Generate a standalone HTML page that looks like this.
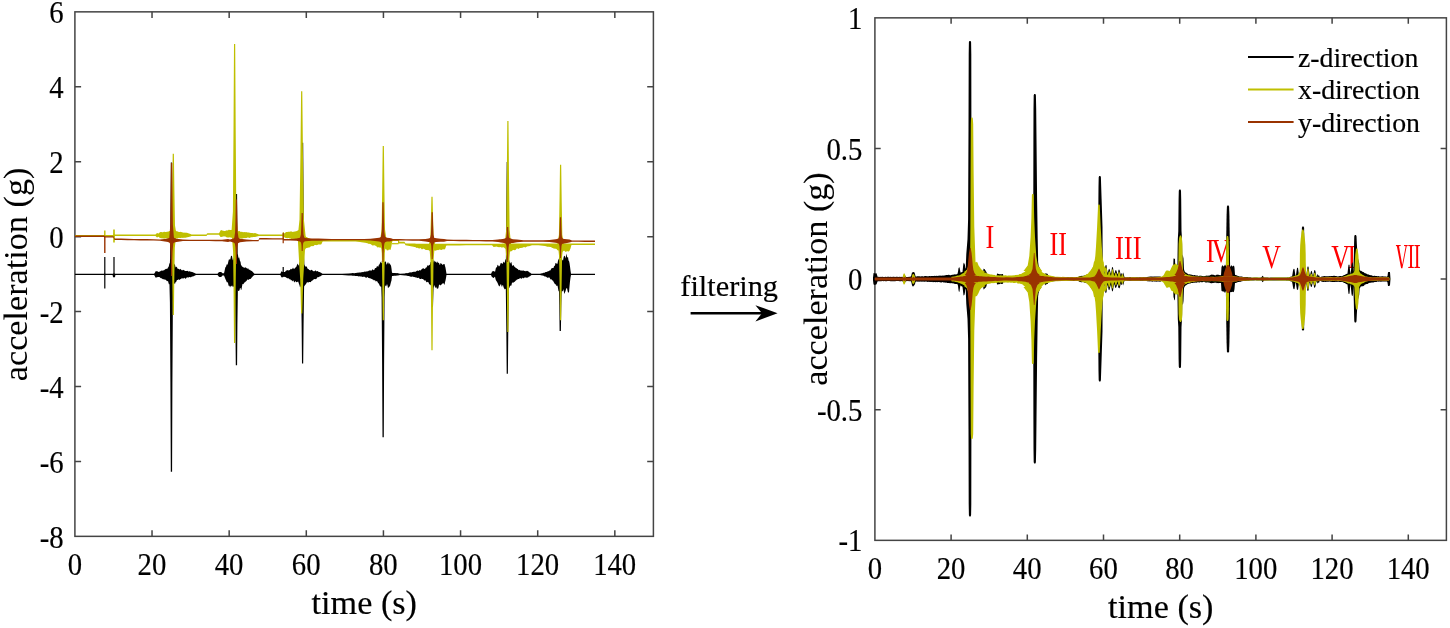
<!DOCTYPE html>
<html lang="en">
<head>
<meta charset="utf-8">
<title>Acceleration signals before and after filtering</title>
<style>
html,body{margin:0;padding:0;background:#fff;}
body{width:1450px;height:628px;overflow:hidden;}
svg{display:block;}
svg text{font-family:"Liberation Serif","Times New Roman",serif;fill:#000000;stroke:#000000;stroke-width:0.18px;}
</style>
</head>
<body>
<svg width="1450" height="628" viewBox="0 0 1450 628">
<rect width="1450" height="628" fill="#fff"/>
<!-- left panel: raw signals -->
<g stroke="#444444" stroke-width="1.5" fill="none">
<rect x="74.90" y="11.85" width="578.50" height="524.50"/>
<path d="M152.03 536.35v-6.20M152.03 11.85v6.20M229.17 536.35v-6.20M229.17 11.85v6.20M306.30 536.35v-6.20M306.30 11.85v6.20M383.43 536.35v-6.20M383.43 11.85v6.20M460.57 536.35v-6.20M460.57 11.85v6.20M537.70 536.35v-6.20M537.70 11.85v6.20M614.83 536.35v-6.20M614.83 11.85v6.20M74.90 86.78h6.20M653.40 86.78h-6.20M74.90 161.71h6.20M653.40 161.71h-6.20M74.90 236.64h6.20M653.40 236.64h-6.20M74.90 311.56h6.20M653.40 311.56h-6.20M74.90 386.49h6.20M653.40 386.49h-6.20M74.90 461.42h6.20M653.40 461.42h-6.20"/>
</g>
<g id="left-traces">
<path d="M75.0 273.8L81.5 273.8L88.0 273.8L94.5 273.8L101.0 273.8L107.5 273.8L114.0 273.8L120.5 273.8L127.0 273.8L133.5 273.8L140.0 273.8L146.5 273.8L153.0 273.8L154.0 273.8L154.5 273.3L155.0 272.6L155.5 271.4L156.0 271.0L156.5 271.2L157.0 271.4L157.5 271.2L158.5 271.9L159.5 271.8L160.0 271.3L160.5 271.3L161.0 270.7L161.5 270.6L162.0 270.7L162.5 270.5L163.0 270.7L163.5 270.3L164.0 270.3L164.5 270.0L165.0 269.3L165.5 269.3L166.0 268.8L166.5 268.7L167.0 269.2L168.0 267.5L168.5 267.1L169.0 265.5L169.5 263.0L170.0 263.7L170.5 263.8L171.0 261.6L171.5 259.4L172.0 259.7L172.5 260.7L173.0 260.0L173.5 261.8L174.0 263.6L174.5 264.2L175.0 265.0L175.5 267.1L176.0 267.5L176.5 266.6L177.0 267.3L177.5 268.6L178.0 269.0L178.5 268.7L179.0 268.9L179.5 269.6L180.0 269.5L180.5 268.8L181.0 269.6L182.0 270.6L182.5 270.3L183.0 269.7L183.5 270.1L184.0 270.2L184.5 270.6L185.0 271.0L185.5 271.1L186.0 270.9L186.5 271.1L187.0 271.0L187.5 270.8L188.0 271.2L188.5 271.5L189.0 271.5L189.5 271.2L190.0 271.3L190.5 271.7L191.0 271.7L192.0 272.1L192.5 272.1L193.0 272.5L193.5 272.6L194.0 272.7L195.0 273.2L196.0 273.8L202.5 273.8L209.0 273.8L215.5 273.8L217.5 273.8L218.0 273.2L218.5 272.6L219.0 272.3L219.5 272.1L220.5 272.1L221.0 272.1L221.5 272.3L222.0 272.7L222.5 273.3L224.0 273.2L224.5 271.3L225.0 268.7L225.5 267.0L226.0 266.8L226.5 265.0L227.0 264.1L227.5 264.9L228.0 262.9L228.5 260.8L229.0 259.2L229.5 259.3L230.0 260.0L230.5 258.6L231.0 256.1L231.5 255.8L232.0 256.1L232.5 258.9L233.0 260.4L233.5 258.7L234.0 257.7L234.5 255.9L235.0 256.6L235.5 256.9L236.0 255.9L236.5 255.0L237.0 254.3L237.5 254.3L238.0 254.9L238.5 258.4L239.0 257.1L239.5 258.8L240.0 261.1L240.5 261.7L241.0 265.1L241.5 265.5L242.0 266.6L242.5 266.7L243.0 267.0L243.5 267.5L244.0 267.4L244.5 268.1L245.0 267.2L245.5 267.2L246.0 267.9L246.5 267.8L247.0 268.7L247.5 268.8L248.0 268.0L248.5 269.1L249.0 269.7L249.5 269.7L250.0 269.7L250.5 270.3L251.0 270.9L251.5 270.7L252.0 271.0L252.5 271.8L253.0 272.2L254.5 273.8L261.0 273.8L267.5 273.8L274.0 273.8L280.0 273.8L280.5 273.5L281.0 272.3L281.5 271.3L282.0 271.6L282.5 272.0L283.5 272.0L284.0 272.1L284.5 272.1L285.0 271.9L285.5 271.2L286.0 270.8L287.0 270.3L287.5 270.1L288.0 270.5L288.5 270.4L289.0 270.0L289.5 270.3L290.0 270.0L290.5 269.1L291.0 268.7L291.5 269.2L292.0 269.3L292.5 268.4L293.0 267.6L293.5 268.4L294.0 269.0L294.5 268.5L295.0 268.3L295.5 267.6L296.0 267.1L296.5 266.6L297.0 264.7L297.5 263.6L298.0 264.8L298.5 265.7L299.0 264.2L299.5 262.3L300.0 261.6L300.5 262.3L301.0 262.0L301.5 261.7L302.0 259.5L302.5 259.2L303.0 261.9L303.5 263.2L304.0 264.2L304.5 265.2L305.0 266.1L305.5 266.7L306.0 266.2L306.5 266.4L307.0 267.3L307.5 268.5L308.0 269.1L308.5 269.0L309.0 269.8L310.0 270.2L310.5 270.6L311.0 270.1L311.5 269.8L312.0 270.0L312.5 270.6L313.0 271.1L313.5 271.2L314.5 271.3L315.0 270.7L315.5 270.3L316.0 270.9L316.5 271.5L317.0 271.1L317.5 271.1L318.0 271.5L318.5 271.7L319.0 271.9L319.5 272.1L320.0 272.2L320.5 272.5L321.0 272.8L322.5 273.8L329.0 273.8L335.5 273.8L342.0 273.8L348.5 273.4L351.5 273.2L352.5 273.1L354.5 273.2L355.5 272.9L357.5 272.8L358.0 272.6L358.5 272.7L359.0 272.6L360.5 272.6L361.5 272.2L362.5 271.9L363.0 272.2L364.5 271.5L365.0 271.7L365.5 271.7L366.0 271.2L366.5 271.4L367.0 271.5L367.5 271.2L368.0 271.2L368.5 271.0L369.0 270.5L369.5 270.4L370.0 270.4L370.5 270.6L371.0 270.6L371.5 270.7L372.0 270.1L372.5 269.2L373.0 269.5L373.5 270.3L374.0 270.1L374.5 269.4L375.0 268.1L375.5 268.1L376.0 268.2L376.5 267.2L377.0 266.0L377.5 266.1L378.0 267.2L379.0 264.5L379.5 264.4L380.0 262.9L380.5 261.5L381.0 263.1L381.5 263.2L382.0 260.4L382.5 258.6L383.0 260.5L383.5 261.3L384.0 261.6L384.5 262.5L385.0 261.5L385.5 261.4L386.0 262.1L386.5 264.7L387.0 264.1L387.5 263.1L388.0 262.1L388.5 262.9L389.0 264.5L389.5 263.0L390.0 263.7L390.5 265.1L391.0 265.5L391.5 268.6L392.0 272.8L393.0 273.1L394.0 273.1L395.5 273.1L396.0 273.2L397.0 273.0L398.0 273.2L400.0 273.8L405.0 273.4L406.0 273.1L407.0 273.2L408.0 272.9L409.0 272.8L410.0 272.3L411.0 272.5L412.0 272.2L412.5 272.1L413.0 272.0L413.5 271.7L414.5 271.8L415.5 271.7L416.0 271.4L416.5 271.1L417.0 270.8L417.5 270.4L418.0 270.7L418.5 271.0L419.0 270.5L419.5 270.1L420.0 270.6L420.5 270.4L421.0 269.8L421.5 269.5L422.0 268.9L422.5 268.6L423.0 268.4L423.5 268.2L424.0 268.4L424.5 268.9L425.0 268.9L425.5 267.9L426.0 267.5L426.5 267.5L427.0 266.4L427.5 265.4L428.0 265.1L428.5 265.9L429.0 265.3L429.5 264.9L430.0 264.4L430.5 261.9L431.0 261.7L431.5 259.4L432.0 256.4L432.5 258.9L433.0 259.2L433.5 260.9L434.0 262.8L434.5 260.6L435.0 261.2L435.5 261.8L436.0 262.3L436.5 262.9L437.0 261.2L437.5 262.1L438.0 263.1L438.5 262.8L439.0 262.8L439.5 264.4L440.0 264.9L440.5 262.9L441.0 263.2L441.5 263.8L442.0 264.2L442.5 265.0L443.0 264.4L443.5 264.2L444.0 263.9L444.5 264.0L445.0 265.9L445.5 267.7L446.0 270.8L446.5 273.8L453.0 273.8L459.5 273.8L466.0 273.8L472.5 273.8L479.0 273.8L485.5 273.8L491.0 273.8L491.5 272.9L492.0 271.5L492.5 271.3L493.0 271.5L493.5 271.1L494.0 271.1L494.5 271.6L495.0 272.0L495.5 269.7L496.0 267.5L496.5 267.5L497.0 267.0L497.5 264.9L498.0 264.8L498.5 266.1L499.0 266.4L499.5 265.9L500.0 265.2L500.5 263.5L501.0 262.7L501.5 263.2L502.0 263.5L502.5 263.9L503.0 263.1L503.5 261.6L504.0 262.3L504.5 263.0L505.0 261.3L505.5 259.3L506.0 259.5L506.5 260.5L507.0 258.4L507.5 259.2L508.0 260.0L508.5 258.0L509.0 259.8L509.5 262.0L510.0 262.9L510.5 263.4L511.0 261.8L511.5 262.6L512.0 265.1L512.5 266.0L513.0 265.6L513.5 264.9L514.0 265.8L514.5 266.9L515.0 266.8L515.5 267.8L516.0 268.1L516.5 267.9L517.0 268.9L517.5 268.8L518.0 269.2L518.5 270.1L519.0 270.2L519.5 269.8L520.0 270.2L520.5 270.5L521.5 270.6L522.0 270.8L522.5 270.7L523.0 270.2L523.5 270.6L524.0 271.1L524.5 271.0L525.0 270.8L525.5 271.2L526.0 271.3L526.5 270.9L527.0 270.8L527.5 271.1L528.0 271.2L528.5 271.5L529.0 272.1L529.5 272.4L530.0 272.6L530.5 272.9L531.5 273.8L538.0 273.8L540.0 273.8L542.0 273.3L542.5 273.2L543.5 272.8L544.0 272.8L544.5 272.7L545.0 272.5L545.5 272.0L546.0 272.0L546.5 272.0L547.0 271.8L547.5 271.5L548.0 271.2L548.5 271.2L549.5 270.4L550.0 270.6L550.5 270.3L551.0 269.2L551.5 268.3L552.0 268.3L552.5 268.1L553.0 268.1L553.5 268.1L554.0 266.3L554.5 266.0L555.0 265.2L555.5 263.1L556.0 263.0L556.5 263.4L557.0 264.1L557.5 263.5L558.0 260.7L558.5 259.5L559.0 258.4L559.5 258.2L560.0 257.1L560.5 253.9L561.0 254.5L561.5 257.4L562.0 259.6L562.5 260.1L563.0 260.7L563.5 257.8L564.0 255.9L564.5 255.7L565.0 256.5L565.5 258.4L566.0 256.0L566.5 253.4L567.0 256.8L567.5 257.8L568.0 256.8L568.5 260.5L569.0 261.0L569.5 263.0L570.0 266.5L570.5 270.5L571.0 273.8L577.5 273.8L584.0 273.8L590.5 273.8L595.0 273.8L595.0 275.0L590.5 275.0L584.0 275.0L577.5 275.0L571.0 275.0L570.5 277.8L570.0 281.5L569.5 286.4L569.0 292.3L568.5 292.5L568.0 292.5L567.5 290.6L567.0 288.1L566.5 288.2L566.0 289.2L565.5 291.2L565.0 292.2L564.5 294.0L564.0 292.5L563.5 289.0L563.0 290.9L562.5 291.5L562.0 290.6L561.5 291.2L561.0 293.7L560.5 295.3L560.0 291.1L559.5 289.5L559.0 291.5L558.5 291.0L558.0 288.2L557.5 285.4L557.0 286.0L556.5 285.9L556.0 284.5L555.5 284.4L555.0 284.1L554.5 283.5L554.0 282.5L553.5 281.8L553.0 280.5L552.5 280.5L552.0 280.2L551.5 279.2L551.0 279.3L550.5 279.4L550.0 278.5L549.5 277.5L548.5 277.5L548.0 277.7L547.5 277.7L547.0 277.5L546.5 277.1L546.0 276.7L545.5 276.5L545.0 276.5L544.5 276.4L544.0 276.0L543.5 275.8L542.5 275.6L542.0 275.5L540.0 275.0L538.0 275.0L531.5 275.0L530.5 275.7L530.0 276.3L529.5 276.5L529.0 276.6L528.5 277.0L528.0 277.4L527.5 277.5L527.0 277.8L526.5 277.7L526.0 277.5L525.5 277.5L525.0 277.4L524.5 277.5L524.0 277.9L523.5 278.4L523.0 277.8L522.5 277.8L522.0 278.5L521.5 278.8L520.5 278.2L520.0 278.1L519.5 278.4L519.0 279.0L518.5 279.0L518.0 279.1L517.5 279.5L517.0 279.4L516.5 279.9L516.0 280.5L515.5 280.7L515.0 281.4L514.5 282.1L514.0 281.8L513.5 282.5L513.0 283.2L512.5 282.3L512.0 282.7L511.5 284.9L511.0 286.0L510.5 285.6L510.0 285.8L509.5 287.4L509.0 288.0L508.5 287.0L508.0 288.8L507.5 291.4L507.0 289.5L506.5 288.6L506.0 289.1L505.5 288.8L505.0 289.5L504.5 288.9L504.0 288.3L503.5 287.1L503.0 285.0L502.5 285.2L502.0 287.1L501.5 285.9L501.0 284.0L500.5 284.4L500.0 285.6L499.5 286.4L499.0 286.0L498.5 285.3L498.0 284.1L497.5 282.8L497.0 282.1L496.5 281.0L496.0 280.5L495.5 279.0L495.0 276.7L494.5 277.0L494.0 277.7L493.5 277.9L493.0 277.7L492.5 277.3L492.0 277.0L491.5 276.2L491.0 275.0L485.5 275.0L479.0 275.0L472.5 275.0L466.0 275.0L459.5 275.0L453.0 275.0L446.5 275.0L446.0 277.9L445.5 280.4L445.0 282.2L444.5 285.1L444.0 284.0L443.5 283.1L443.0 283.8L442.5 283.2L442.0 284.0L441.5 284.6L441.0 285.0L440.5 285.6L440.0 285.1L439.5 284.5L439.0 284.9L438.5 287.5L438.0 288.8L437.5 288.5L437.0 288.7L436.5 287.7L436.0 286.5L435.5 287.9L435.0 287.4L434.5 285.3L434.0 285.7L433.5 286.9L433.0 288.3L432.5 288.6L432.0 289.0L431.5 287.7L431.0 285.5L430.5 285.1L430.0 284.4L429.5 284.5L429.0 283.8L428.5 282.2L428.0 282.3L427.5 281.9L427.0 281.8L426.5 282.5L426.0 281.6L425.5 280.3L425.0 280.6L424.5 280.5L424.0 280.2L423.5 279.6L423.0 278.9L422.5 279.1L422.0 279.0L421.5 278.6L421.0 279.0L420.5 279.0L420.0 278.9L419.5 278.7L419.0 278.0L418.5 277.7L418.0 277.7L417.5 277.9L417.0 278.1L416.5 277.5L416.0 277.3L415.5 277.4L414.5 276.9L413.5 277.0L413.0 276.6L412.5 276.6L412.0 276.8L411.0 276.7L410.0 276.4L409.0 276.0L408.0 276.1L407.0 275.7L406.0 275.6L405.0 275.5L400.0 275.0L398.0 275.6L397.0 275.5L396.0 275.7L395.5 275.7L394.0 275.7L393.0 275.9L392.0 275.9L391.5 280.4L391.0 282.1L390.5 283.9L390.0 286.1L389.5 286.6L389.0 287.2L388.5 287.4L388.0 288.3L387.5 285.5L387.0 283.9L386.5 285.4L386.0 286.5L385.5 285.8L385.0 285.3L384.5 287.7L384.0 288.1L383.5 286.9L383.0 288.6L382.5 288.8L382.0 287.5L381.5 286.2L381.0 287.1L380.5 286.4L380.0 285.7L379.5 285.4L379.0 283.8L378.0 283.1L377.5 281.8L377.0 281.3L376.5 281.1L376.0 281.4L375.5 281.2L375.0 280.1L374.5 280.2L374.0 280.4L373.5 280.0L373.0 279.5L372.5 279.4L372.0 279.0L371.5 278.9L371.0 278.4L370.5 278.2L370.0 278.7L369.5 278.0L369.0 277.9L368.5 278.1L368.0 277.6L367.5 277.1L367.0 277.2L366.5 277.7L366.0 277.7L365.5 277.4L365.0 277.0L364.5 276.8L363.0 276.8L362.5 276.9L361.5 276.4L360.5 276.5L359.0 276.3L358.5 276.4L358.0 276.2L357.5 275.9L355.5 275.9L354.5 275.8L352.5 275.8L351.5 275.6L348.5 275.4L342.0 275.0L335.5 275.0L329.0 275.0L322.5 275.0L321.0 275.8L320.5 276.3L320.0 276.5L319.5 276.4L319.0 276.9L318.5 277.2L318.0 277.1L317.5 277.3L317.0 278.1L316.5 278.8L316.0 279.1L315.5 279.3L315.0 279.0L314.5 279.1L313.5 279.4L313.0 280.0L312.5 280.5L312.0 280.8L311.5 280.9L311.0 281.8L310.5 282.3L310.0 281.9L309.0 282.1L308.5 282.4L308.0 282.4L307.5 282.2L307.0 282.2L306.5 283.0L306.0 284.0L305.5 284.8L305.0 284.8L304.5 286.1L304.0 286.2L303.5 285.9L303.0 286.5L302.5 287.4L302.0 290.3L301.5 288.3L301.0 285.5L300.5 286.7L300.0 287.5L299.5 285.3L299.0 284.0L298.5 282.4L298.0 281.3L297.5 281.9L297.0 282.1L296.5 282.2L296.0 282.0L295.5 281.1L295.0 281.5L294.5 282.5L294.0 282.1L293.5 280.6L293.0 280.6L292.5 281.5L292.0 280.4L291.5 280.1L291.0 280.6L290.5 279.4L290.0 279.0L289.5 279.4L289.0 278.5L288.5 278.3L288.0 278.5L287.5 278.3L287.0 277.9L286.0 277.6L285.5 277.0L285.0 277.1L284.5 276.9L284.0 276.4L283.5 277.0L282.5 277.2L282.0 277.4L281.5 277.2L281.0 276.4L280.5 275.3L280.0 275.0L274.0 275.0L267.5 275.0L261.0 275.0L254.5 275.0L253.0 276.1L252.5 276.7L252.0 277.3L251.5 277.8L251.0 278.4L250.5 278.9L250.0 279.1L249.5 278.9L249.0 279.6L248.5 279.9L248.0 279.5L247.5 279.4L247.0 280.1L246.5 280.9L246.0 281.2L245.5 281.8L245.0 282.3L244.5 282.6L244.0 283.0L243.5 284.2L243.0 283.9L242.5 284.1L242.0 286.6L241.5 289.2L241.0 290.3L240.5 287.9L240.0 288.1L239.5 290.6L239.0 290.4L238.5 290.9L238.0 291.1L237.5 289.7L237.0 289.3L236.5 290.4L236.0 289.1L235.5 286.3L235.0 288.4L234.5 289.4L234.0 287.3L233.5 285.9L233.0 287.2L232.5 286.3L232.0 285.2L231.5 286.5L231.0 285.7L230.5 286.4L230.0 287.4L229.5 285.5L229.0 286.2L228.5 285.2L228.0 282.9L227.5 281.9L227.0 282.6L226.5 281.5L226.0 280.2L225.5 279.2L225.0 278.0L224.5 276.8L224.0 275.6L222.5 275.4L222.0 276.1L221.5 276.8L221.0 277.1L220.5 276.9L219.5 277.0L219.0 276.7L218.5 276.3L218.0 275.6L217.5 275.0L215.5 275.0L209.0 275.0L202.5 275.0L196.0 275.0L195.0 275.5L194.0 276.1L193.5 276.2L193.0 276.4L192.5 276.5L192.0 276.4L191.0 277.2L190.5 277.3L190.0 277.3L189.5 277.1L189.0 277.1L188.5 277.6L188.0 277.7L187.5 277.3L187.0 277.3L186.5 277.8L186.0 278.5L185.5 278.7L185.0 278.4L184.5 277.7L184.0 278.0L183.5 278.5L183.0 278.6L182.5 278.4L182.0 278.0L181.0 278.9L180.5 279.0L180.0 279.4L179.5 279.9L179.0 279.6L178.5 279.3L178.0 280.0L177.5 280.1L177.0 279.8L176.5 281.2L176.0 282.1L175.5 282.3L175.0 283.9L174.5 283.6L174.0 283.2L173.5 284.0L173.0 285.3L172.5 286.6L172.0 288.7L171.5 292.1L171.0 290.8L170.5 287.3L170.0 284.3L169.5 284.0L169.0 284.5L168.5 282.9L168.0 280.9L167.0 281.2L166.5 280.8L166.0 279.8L165.5 279.8L165.0 279.8L164.5 279.4L164.0 279.3L163.5 279.3L163.0 279.2L162.5 279.0L162.0 278.4L161.5 278.2L161.0 278.3L160.5 278.1L160.0 277.6L159.5 277.1L158.5 276.9L157.5 277.1L157.0 277.5L156.5 277.5L156.0 277.3L155.5 277.7L155.0 276.6L154.5 275.5L154.0 275.0L153.0 275.0L146.5 275.0L140.0 275.0L133.5 275.0L127.0 275.0L120.5 275.0L114.0 275.0L107.5 275.0L101.0 275.0L94.5 275.0L88.0 275.0L81.5 275.0L75.0 275.0Z" fill="#000000"/>
<path d="M104.1 274.4L104.2 272.0L104.2 264.8L104.2 257.0L105.4 257.0L105.4 264.8L105.4 272.0L105.5 274.4Z" fill="#000000"/>
<path d="M104.1 274.4L104.2 276.4L104.2 282.1L104.2 288.4L105.4 288.4L105.4 282.1L105.4 276.4L105.5 274.4Z" fill="#000000"/>
<path d="M113.3 274.4L113.4 272.0L113.4 264.8L113.4 257.0L114.6 257.0L114.6 264.8L114.6 272.0L114.7 274.4Z" fill="#000000"/>
<ellipse cx="114" cy="275.6" rx="1.3" ry="2.0" fill="#000"/>
<path d="M282.5 274.4L282.6 273.4L282.6 270.3L282.6 267.0L283.8 267.0L283.8 270.3L283.8 273.4L283.9 274.4Z" fill="#000000"/>
<path d="M169.2 274.4L170.1 258.7L170.4 212.9L170.8 162.5L172.1 162.5L172.4 212.9L172.8 258.7L173.6 274.4Z" fill="#000000"/>
<path d="M169.2 274.4L169.9 302.0L170.4 382.9L170.8 471.7L172.1 471.7L172.4 382.9L172.9 302.0L173.6 274.4Z" fill="#000000"/>
<path d="M234.2 274.4L235.1 263.1L235.4 230.2L235.8 194.0L237.1 194.0L237.4 230.2L237.8 263.1L238.6 274.4Z" fill="#000000"/>
<path d="M234.2 274.4L234.9 287.1L235.4 324.4L235.8 365.3L237.1 365.3L237.4 324.4L237.9 287.1L238.6 274.4Z" fill="#000000"/>
<path d="M300.4 274.4L301.2 256.0L301.6 202.0L302.0 142.7L303.2 142.7L303.6 202.0L304.0 256.0L304.8 274.4Z" fill="#000000"/>
<path d="M300.4 274.4L301.1 286.9L301.6 323.5L302.0 363.6L303.2 363.6L303.6 323.5L304.1 286.9L304.8 274.4Z" fill="#000000"/>
<path d="M380.9 274.4L381.8 271.8L382.1 264.3L382.5 256.0L383.8 256.0L384.1 264.3L384.5 271.8L385.3 274.4Z" fill="#000000"/>
<path d="M380.9 274.4L381.6 297.2L382.1 363.9L382.5 437.2L383.8 437.2L384.1 363.9L384.6 297.2L385.3 274.4Z" fill="#000000"/>
<path d="M430.2 274.4L431.0 272.2L431.4 265.9L431.8 259.0L433.0 259.0L433.4 265.9L433.8 272.2L434.6 274.4Z" fill="#000000"/>
<path d="M430.2 274.4L430.9 279.0L431.4 292.3L431.8 307.0L433.0 307.0L433.4 292.3L433.9 279.0L434.6 274.4Z" fill="#000000"/>
<path d="M505.1 274.4L505.9 258.7L506.3 212.6L506.7 162.0L507.9 162.0L508.3 212.6L508.7 258.7L509.5 274.4Z" fill="#000000"/>
<path d="M505.1 274.4L505.8 288.3L506.3 329.0L506.7 373.7L507.9 373.7L508.3 329.0L508.8 288.3L509.5 274.4Z" fill="#000000"/>
<path d="M558.1 274.4L558.9 271.7L559.3 263.7L559.6 255.0L560.9 255.0L561.3 263.7L561.6 271.7L562.5 274.4Z" fill="#000000"/>
<path d="M558.1 274.4L558.8 282.3L559.3 305.5L559.6 330.9L560.9 330.9L561.3 305.5L561.8 282.3L562.5 274.4Z" fill="#000000"/>
<path d="M75.0 234.9L81.5 234.9L88.0 234.9L94.5 234.9L101.0 234.9L104.5 234.9L105.0 235.1L111.5 235.1L113.5 235.1L114.5 234.4L121.0 234.4L127.5 234.4L134.0 234.4L140.5 234.4L147.0 234.4L153.5 234.4L155.5 234.4L156.5 233.4L157.0 233.0L158.5 233.6L159.0 233.2L159.5 232.6L160.0 232.3L160.5 232.0L161.5 232.0L162.0 232.3L163.0 232.3L163.5 232.0L164.0 231.7L164.5 231.7L165.0 231.9L165.5 232.0L166.0 232.0L166.5 231.8L167.0 231.9L167.5 231.6L168.0 231.8L169.5 231.0L170.0 231.0L171.0 229.8L171.5 229.1L172.0 228.5L172.5 228.0L173.0 227.7L173.5 228.3L174.0 228.7L174.5 229.4L175.0 230.2L175.5 230.6L176.0 231.3L176.5 231.2L177.0 231.1L177.5 231.5L179.0 232.1L179.5 231.9L180.0 232.0L180.5 231.8L182.0 232.3L183.0 232.6L183.5 232.7L184.0 232.6L184.5 232.7L185.0 232.4L185.5 232.7L186.5 232.8L187.0 232.8L187.5 232.9L190.5 233.9L191.5 234.5L198.0 234.5L204.5 234.5L206.5 234.5L207.0 233.6L207.5 233.2L214.0 233.2L219.0 233.2L220.0 231.4L220.5 230.4L221.5 230.1L222.0 230.4L222.5 230.5L223.0 230.8L223.5 230.7L224.0 231.0L224.5 230.9L225.0 231.0L225.5 230.8L226.0 230.7L226.5 230.3L227.5 230.4L228.5 229.9L229.0 229.6L229.5 229.9L231.5 230.0L232.0 229.8L232.5 228.7L233.0 227.7L234.0 226.3L234.5 226.7L235.0 227.0L235.5 227.5L236.0 228.9L236.5 229.6L237.0 230.2L237.5 230.6L238.0 231.2L238.5 231.2L239.0 231.0L239.5 231.0L240.0 231.4L240.5 231.8L241.0 231.9L241.5 231.7L242.0 231.7L242.5 232.1L243.0 232.3L244.5 231.9L245.0 232.2L245.5 232.1L246.0 232.4L246.5 232.1L247.0 232.3L247.5 232.4L248.0 232.5L249.0 232.5L249.5 232.7L251.0 232.9L252.5 233.0L253.0 233.2L254.0 233.2L255.0 233.1L257.0 233.7L259.0 234.4L265.5 234.4L272.0 234.4L278.5 234.4L282.5 234.4L283.0 232.1L283.5 232.0L284.0 233.4L285.0 232.9L286.0 232.1L287.5 231.9L288.0 231.7L289.0 231.7L289.5 231.8L290.0 231.7L290.5 231.6L291.0 231.2L291.5 231.4L292.0 231.7L292.5 232.0L293.0 231.8L293.5 231.7L294.0 231.7L294.5 231.6L295.0 231.6L295.5 231.3L296.0 231.4L296.5 230.9L297.0 231.1L297.5 230.5L298.0 230.6L298.5 230.1L299.0 230.3L300.0 229.0L300.5 229.7L301.0 230.0L301.5 232.0L302.0 234.0L302.5 234.1L303.0 234.5L303.5 234.6L304.0 235.1L304.5 235.2L305.0 235.8L305.5 236.4L306.0 237.1L306.5 237.0L307.0 237.3L307.5 237.4L308.0 237.9L308.5 238.0L309.0 238.4L309.5 238.5L310.0 238.9L310.5 239.0L312.0 239.5L313.0 239.8L313.5 239.8L314.0 239.8L314.5 239.8L316.0 239.8L316.5 239.8L317.0 239.8L317.5 239.8L318.0 239.8L319.5 239.8L320.0 239.8L321.0 239.8L321.5 239.8L322.5 239.8L323.0 239.8L329.5 239.8L336.0 239.8L342.5 239.8L349.0 239.8L355.5 239.8L360.0 239.8L361.5 239.8L365.0 239.8L366.5 239.8L367.0 239.8L367.5 239.8L368.0 239.8L368.5 239.8L369.0 239.8L369.5 239.8L370.5 239.8L372.5 239.8L373.0 239.8L374.0 239.8L374.5 239.8L376.0 239.8L376.5 239.8L377.0 239.8L377.5 239.8L378.0 239.8L378.5 239.8L379.0 239.8L379.5 239.8L380.0 239.8L380.5 239.8L382.0 239.8L382.5 239.8L383.0 239.8L383.5 239.8L384.0 239.8L384.5 239.8L385.0 239.8L385.5 239.8L386.0 239.8L386.5 239.8L387.0 239.8L387.5 239.8L388.0 239.8L388.5 239.8L389.5 239.8L390.5 239.8L391.0 239.8L391.5 239.8L392.0 239.6L392.5 239.4L398.0 239.4L398.5 240.0L399.0 241.8L404.5 241.8L405.5 243.6L409.5 243.6L413.5 243.6L414.5 243.6L415.0 243.6L416.0 243.7L416.5 243.7L417.5 243.7L419.0 243.7L419.5 243.7L420.5 243.7L421.0 243.7L421.5 243.7L422.0 243.7L423.0 243.7L424.0 243.7L424.5 243.7L425.0 243.7L425.5 243.7L426.5 243.7L427.0 243.7L427.5 243.7L428.0 243.7L428.5 243.7L429.0 243.7L430.0 243.7L432.0 243.7L432.5 243.7L433.0 243.7L434.0 243.7L435.0 243.7L436.0 243.8L436.5 243.8L437.0 243.8L437.5 243.8L438.0 243.8L439.5 243.8L441.5 243.8L442.5 243.8L443.0 243.8L443.5 243.8L444.0 243.8L444.5 243.8L445.0 243.8L445.5 243.8L446.0 243.8L446.5 243.8L453.0 243.8L459.5 243.8L466.0 243.7L472.5 243.7L479.0 243.7L485.5 243.7L492.0 243.7L493.0 243.7L493.5 243.7L495.5 243.7L496.5 243.7L497.0 243.7L499.0 243.7L500.5 243.7L501.5 243.7L502.0 243.6L503.5 243.6L504.0 243.6L505.0 243.6L505.5 243.6L506.5 243.6L507.0 243.6L507.5 243.6L508.0 243.6L508.5 243.6L509.0 243.6L510.0 243.6L510.5 243.6L511.0 243.6L511.5 243.6L512.0 243.6L512.5 243.6L513.0 243.6L513.5 243.6L514.0 243.6L514.5 243.6L515.5 243.6L516.5 243.6L517.0 243.6L518.0 243.6L518.5 243.6L519.0 243.6L520.0 243.6L521.0 243.6L522.0 243.6L522.5 243.6L523.0 243.6L524.0 243.6L525.5 243.6L527.0 243.6L528.0 243.6L529.0 243.6L532.0 243.6L538.5 243.6L545.0 243.5L547.5 243.5L549.0 243.5L550.0 243.5L551.0 243.5L551.5 243.5L552.5 243.5L553.0 243.5L553.5 243.5L555.5 243.5L556.0 243.5L556.5 243.5L557.5 243.5L559.0 243.5L560.0 243.5L560.5 243.5L561.0 243.5L561.5 243.5L562.0 243.5L562.5 243.5L563.0 243.5L563.5 243.5L564.5 243.5L565.0 243.5L566.0 243.5L567.0 243.5L568.5 243.5L569.0 243.5L569.5 243.5L570.0 243.5L570.5 243.5L571.0 243.5L571.5 243.5L578.0 243.4L584.5 243.4L591.0 243.4L595.0 243.4L595.0 245.0L591.0 245.0L584.5 245.0L578.0 245.0L571.5 245.1L571.0 246.4L570.5 248.5L570.0 249.6L569.5 251.0L569.0 250.7L568.5 251.7L567.0 251.0L566.0 252.1L565.0 251.4L564.5 250.8L563.5 250.8L563.0 251.5L562.5 251.5L562.0 252.0L561.5 251.7L561.0 251.3L560.5 250.4L560.0 249.8L559.0 250.4L557.5 250.2L556.5 249.1L556.0 248.8L555.5 248.8L553.5 248.4L553.0 248.0L552.5 248.1L551.5 247.5L551.0 247.1L550.0 247.1L549.0 246.7L547.5 246.7L545.0 246.0L538.5 245.2L532.0 245.2L529.0 246.3L528.0 246.3L527.0 246.5L525.5 247.4L524.0 247.1L523.0 247.5L522.5 247.8L522.0 247.8L521.0 247.9L520.0 248.1L519.0 248.5L518.5 249.0L518.0 248.8L517.0 248.3L516.5 248.8L515.5 250.0L514.5 250.3L514.0 250.1L513.5 250.1L513.0 249.8L512.5 250.4L512.0 250.7L511.5 251.2L511.0 251.3L510.5 251.4L510.0 251.4L509.0 252.3L508.5 253.0L508.0 251.1L507.5 249.6L507.0 248.6L506.5 248.8L505.5 248.8L505.0 248.5L504.0 247.5L503.5 247.3L502.0 247.6L501.5 247.5L500.5 246.9L499.0 247.2L497.0 246.8L496.5 246.5L495.5 246.7L493.5 247.0L493.0 246.3L492.0 245.3L485.5 245.3L479.0 245.3L472.5 245.3L466.0 245.3L459.5 245.4L453.0 245.4L446.5 245.4L446.0 246.2L445.5 248.0L445.0 249.1L444.5 249.4L444.0 249.3L443.5 249.4L443.0 249.1L442.5 249.5L441.5 250.0L439.5 249.4L438.0 250.3L437.5 250.1L437.0 250.1L436.5 250.2L436.0 250.8L435.0 250.4L434.0 250.6L433.0 249.8L432.5 249.8L432.0 250.3L430.0 251.1L429.0 250.6L428.5 250.0L428.0 250.2L427.5 250.0L427.0 250.1L426.5 249.9L425.5 249.9L425.0 249.3L424.5 249.2L424.0 248.7L423.0 248.8L422.0 249.4L421.5 249.0L421.0 248.4L420.5 248.1L419.5 248.4L419.0 248.4L417.5 247.7L416.5 247.9L416.0 247.5L415.0 247.0L414.5 247.1L413.5 246.8L409.5 246.1L405.5 245.3L404.5 243.4L399.0 243.4L398.5 241.6L398.0 241.0L392.5 241.0L392.0 242.6L391.5 246.1L391.0 248.1L390.5 249.9L389.5 249.4L388.5 249.8L388.0 250.7L387.5 250.0L387.0 250.7L386.5 249.4L386.0 249.2L385.5 248.6L385.0 249.7L384.5 250.9L384.0 250.9L383.5 250.8L383.0 249.5L382.5 249.8L382.0 249.0L380.5 247.2L380.0 248.0L379.5 247.3L379.0 247.5L378.5 247.1L378.0 247.4L377.5 247.4L377.0 246.8L376.5 246.5L376.0 245.9L374.5 245.2L374.0 245.2L373.0 245.5L372.5 245.4L370.5 244.0L369.5 243.7L369.0 243.9L368.5 243.7L368.0 243.6L367.5 243.2L367.0 243.2L366.5 242.9L365.0 242.8L361.5 242.3L360.0 241.9L355.5 241.4L349.0 241.4L342.5 241.4L336.0 241.4L329.5 241.4L323.0 241.4L322.5 241.7L321.5 244.0L321.0 244.4L320.0 244.6L319.5 244.5L318.0 244.4L317.5 245.0L317.0 244.9L316.5 245.2L316.0 245.0L314.5 245.0L314.0 245.7L313.5 246.1L313.0 246.2L312.0 246.1L310.5 246.5L310.0 247.3L309.5 247.2L309.0 247.7L308.5 247.6L308.0 247.6L307.5 248.0L307.0 247.8L306.5 248.2L306.0 247.9L305.5 249.0L305.0 249.8L304.5 249.6L304.0 248.7L303.5 248.7L303.0 249.3L302.5 250.4L302.0 250.6L301.5 247.9L301.0 245.4L300.5 243.4L300.0 241.7L299.0 240.2L298.5 239.9L298.0 239.8L297.5 239.9L297.0 240.1L296.5 239.9L296.0 239.7L295.5 239.3L295.0 239.2L294.5 238.8L294.0 239.0L293.5 238.8L293.0 238.9L292.5 238.7L292.0 239.0L291.5 239.0L291.0 238.7L290.5 238.5L290.0 238.4L289.5 238.4L289.0 238.1L288.0 238.0L287.5 238.2L286.0 237.9L285.0 237.7L284.0 237.1L283.5 240.1L283.0 240.0L282.5 236.0L278.5 236.0L272.0 236.0L265.5 236.0L259.0 236.0L257.0 236.6L255.0 236.9L254.0 237.1L253.0 237.1L252.5 237.2L251.0 237.3L249.5 237.9L249.0 237.8L248.0 237.5L247.5 237.5L247.0 237.8L246.5 237.9L246.0 238.1L245.5 238.1L245.0 238.2L244.5 238.1L243.0 238.2L242.5 238.4L242.0 238.7L241.5 238.5L241.0 238.5L240.5 238.3L240.0 238.7L239.5 238.6L239.0 238.7L238.5 238.6L238.0 238.8L237.5 239.0L237.0 239.7L236.5 240.1L236.0 241.0L235.5 240.6L235.0 240.7L234.5 240.4L234.0 241.2L233.0 239.4L232.5 238.4L232.0 237.7L231.5 237.8L229.5 237.2L229.0 237.5L228.5 237.6L227.5 237.5L226.5 237.2L226.0 237.0L225.5 236.6L225.0 236.6L224.5 236.4L224.0 236.2L223.5 236.4L223.0 236.5L222.5 236.8L222.0 236.8L221.5 236.9L220.5 237.0L220.0 236.2L219.0 234.8L214.0 234.8L207.5 234.8L207.0 235.2L206.5 236.1L204.5 236.1L198.0 236.1L191.5 236.1L190.5 236.4L187.5 237.3L187.0 237.3L186.5 237.4L185.5 237.7L185.0 237.7L184.5 237.7L184.0 237.7L183.5 237.8L183.0 238.0L182.0 237.7L180.5 238.0L180.0 237.9L179.5 237.9L179.0 237.8L177.5 238.5L177.0 238.3L176.5 238.4L176.0 238.4L175.5 239.2L175.0 239.4L174.5 239.8L174.0 239.7L173.5 240.3L173.0 241.5L172.5 242.7L172.0 241.9L171.5 240.7L171.0 239.8L170.0 239.2L169.5 239.1L168.0 238.5L167.5 238.6L167.0 238.5L166.5 238.4L166.0 238.3L165.5 238.2L165.0 238.4L164.5 238.5L164.0 238.7L163.5 238.6L163.0 238.3L162.0 238.4L161.5 238.3L160.5 238.1L160.0 238.2L159.5 237.7L159.0 237.0L158.5 236.7L157.0 237.4L156.5 237.0L155.5 236.0L153.5 236.0L147.0 236.0L140.5 236.0L134.0 236.0L127.5 236.0L121.0 236.0L114.5 236.0L113.5 236.7L111.5 236.7L105.0 236.7L104.5 236.5L101.0 236.5L94.5 236.5L88.0 236.5L81.5 236.5L75.0 236.5Z" fill="#bfbf00"/>
<path d="M392 243.7H398.6" stroke="#bfbf00" stroke-width="1.2" fill="none"/>
<path d="M398.6 240V243.6" stroke="#bfbf00" stroke-width="1.2" fill="none"/>
<path d="M104.0 235.7L104.1 235.0L104.1 232.8L104.1 230.5L105.5 230.5L105.5 232.8L105.5 235.0L105.6 235.7Z" fill="#bfbf00"/>
<path d="M112.9 235.7L113.1 234.8L113.2 232.3L113.2 229.5L114.8 229.5L114.8 232.3L114.9 234.8L115.1 235.7Z" fill="#bfbf00"/>
<path d="M112.9 235.7L113.1 236.7L113.2 239.4L113.2 242.5L114.8 242.5L114.8 239.4L114.9 236.7L115.1 235.7Z" fill="#bfbf00"/>
<path d="M170.1 235.4L171.6 225.6L172.2 190.5L172.7 153.8L173.9 153.8L174.4 190.5L175.0 225.6L176.6 235.4Z" fill="#bfbf00"/>
<path d="M170.6 235.4L171.8 248.1L172.3 279.2L172.7 315.0L173.9 315.0L174.3 279.2L174.8 248.1L176.1 235.4Z" fill="#bfbf00"/>
<path d="M231.3 234.4L232.9 211.6L233.5 129.7L234.0 44.0L235.2 44.0L235.7 129.7L236.3 211.6L237.8 234.4Z" fill="#bfbf00"/>
<path d="M231.8 234.4L233.1 251.8L233.6 294.1L234.0 343.0L235.2 343.0L235.6 294.1L236.1 251.8L237.3 234.4Z" fill="#bfbf00"/>
<path d="M297.7 237.0L299.5 219.5L300.4 156.9L301.1 91.3L302.3 91.3L303.0 156.9L303.9 219.5L305.7 237.0Z" fill="#bfbf00"/>
<path d="M297.7 237.0L299.0 259.9L300.2 279.1L301.1 313.5L302.3 313.5L303.2 279.1L304.4 259.9L305.7 237.0Z" fill="#bfbf00"/>
<path d="M380.1 240.6L381.6 229.2L382.2 188.6L382.7 146.0L383.9 146.0L384.4 188.6L385.0 229.2L386.6 240.6Z" fill="#bfbf00"/>
<path d="M380.6 240.6L381.8 253.3L382.3 284.4L382.7 320.2L383.9 320.2L384.3 284.4L384.8 253.3L386.1 240.6Z" fill="#bfbf00"/>
<path d="M428.8 244.4L430.3 238.7L430.9 218.2L431.4 196.8L432.6 196.8L433.1 218.2L433.7 238.7L435.2 244.4Z" fill="#bfbf00"/>
<path d="M429.2 244.4L430.5 261.3L431.0 302.6L431.4 350.3L432.6 350.3L433.0 302.6L433.5 261.3L434.8 244.4Z" fill="#bfbf00"/>
<path d="M504.6 244.4L506.2 229.6L506.8 176.5L507.3 121.0L508.5 121.0L509.0 176.5L509.6 229.6L511.1 244.4Z" fill="#bfbf00"/>
<path d="M505.1 244.4L506.4 258.4L506.9 292.6L507.3 332.0L508.5 332.0L508.9 292.6L509.4 258.4L510.6 244.4Z" fill="#bfbf00"/>
<path d="M557.4 244.4L558.9 234.8L559.5 200.6L560.0 164.7L561.2 164.7L561.7 200.6L562.3 234.8L563.9 244.4Z" fill="#bfbf00"/>
<path d="M557.9 244.4L559.1 256.5L559.6 286.1L560.0 320.2L561.2 320.2L561.6 286.1L562.1 256.5L563.4 244.4Z" fill="#bfbf00"/>
<path d="M75.0 235.6L81.5 235.6L88.0 235.6L94.5 235.6L101.0 235.6L104.5 235.6L105.0 236.2L111.5 236.2L113.5 236.2L114.5 238.5L121.0 238.6L127.5 238.8L134.0 238.9L140.5 239.0L147.0 239.1L153.5 239.2L160.0 239.4L166.5 238.7L168.0 238.3L169.5 237.9L170.0 237.7L170.5 236.9L171.0 236.1L171.5 235.0L172.0 235.2L172.5 236.1L173.0 237.1L173.5 237.6L174.5 237.9L175.0 238.3L176.5 238.8L183.0 239.5L189.5 239.7L196.0 239.7L202.5 239.7L209.0 239.7L215.5 239.8L222.0 239.8L228.0 239.1L230.0 239.5L233.5 238.5L235.0 237.4L235.5 236.8L236.5 235.5L237.0 236.0L238.0 237.6L239.0 238.3L239.5 238.5L240.0 238.7L246.5 239.5L253.0 239.9L258.5 239.9L259.0 238.7L259.5 238.1L266.0 238.1L272.5 238.2L279.0 238.2L283.0 238.2L283.5 239.1L290.0 239.0L296.5 238.5L300.0 237.7L300.5 237.3L301.5 235.9L302.0 234.9L302.5 235.3L303.0 236.3L303.5 237.0L304.0 237.4L305.5 238.0L312.0 238.5L318.5 238.5L325.0 238.8L331.5 238.9L338.0 238.9L344.5 238.9L351.0 238.9L357.5 238.9L364.0 238.9L370.5 238.7L377.0 238.1L379.0 237.7L380.0 237.4L380.5 237.3L381.0 237.0L381.5 236.8L382.0 235.9L382.5 235.2L383.0 234.4L383.5 235.0L384.5 236.6L385.5 237.1L387.0 237.8L389.5 237.9L391.0 238.2L393.0 239.0L399.5 239.1L406.0 239.2L412.5 239.3L419.0 239.3L425.5 238.9L428.5 238.5L430.0 238.0L430.5 237.6L431.0 237.2L432.0 235.4L432.5 235.6L433.0 236.3L433.5 237.3L434.0 237.8L434.5 238.1L435.0 238.0L436.5 238.2L440.5 238.7L444.0 239.0L447.0 239.6L453.5 239.7L460.0 239.8L466.5 239.8L473.0 239.9L479.5 239.9L486.0 240.0L492.5 240.1L498.0 239.5L499.5 239.3L500.5 239.2L502.5 239.1L504.0 238.7L506.0 238.1L506.5 237.6L507.0 236.8L507.5 236.3L508.0 236.5L509.0 237.8L510.0 238.3L511.5 238.7L512.0 239.0L513.0 239.2L517.0 239.5L523.5 240.3L530.0 240.3L536.5 240.3L543.0 240.3L549.5 240.0L555.5 239.2L557.0 239.1L557.5 238.7L559.0 238.5L560.5 236.6L561.0 237.3L561.5 237.6L562.0 238.2L564.0 238.9L564.5 239.0L569.5 239.5L572.0 240.4L578.5 240.4L585.0 240.5L591.5 240.5L595.0 240.5L595.0 241.9L591.5 241.9L585.0 241.9L578.5 241.8L572.0 241.8L569.5 242.6L564.5 243.4L564.0 243.4L562.0 244.0L561.5 244.3L561.0 244.7L560.5 245.2L559.0 243.8L557.5 243.2L557.0 243.1L555.5 242.8L549.5 242.0L543.0 241.7L536.5 241.7L530.0 241.7L523.5 241.7L517.0 242.3L513.0 242.9L512.0 242.9L511.5 243.0L510.0 243.7L509.0 243.8L508.0 245.0L507.5 245.5L507.0 245.0L506.5 244.5L506.0 243.8L504.0 242.9L502.5 242.7L500.5 242.4L499.5 242.3L498.0 242.0L492.5 241.5L486.0 241.4L479.5 241.3L473.0 241.3L466.5 241.2L460.0 241.2L453.5 241.1L447.0 241.0L444.0 241.7L440.5 241.8L436.5 242.1L435.0 242.2L434.5 242.5L434.0 242.7L433.5 243.4L433.0 244.2L432.5 244.7L432.0 244.7L431.0 243.3L430.5 242.9L430.0 242.3L428.5 242.0L425.5 241.4L419.0 240.7L412.5 240.7L406.0 240.6L399.5 240.5L393.0 240.4L391.0 241.3L389.5 241.4L387.0 241.6L385.5 242.0L384.5 242.7L383.5 244.2L383.0 244.8L382.5 243.7L382.0 242.9L381.5 242.4L381.0 242.2L380.5 242.1L380.0 241.8L379.0 241.4L377.0 241.2L370.5 240.5L364.0 240.3L357.5 240.3L351.0 240.3L344.5 240.3L338.0 240.3L331.5 240.3L325.0 240.4L318.5 240.7L312.0 240.7L305.5 241.3L304.0 241.7L303.5 242.3L303.0 243.1L302.5 243.8L302.0 244.0L301.5 243.3L300.5 242.1L300.0 241.6L296.5 240.8L290.0 240.4L283.5 240.5L283.0 239.6L279.0 239.6L272.5 239.6L266.0 239.5L259.5 239.5L259.0 240.1L258.5 241.3L253.0 241.3L246.5 241.6L240.0 242.3L239.5 242.4L239.0 242.8L238.0 243.3L237.0 244.4L236.5 245.1L235.5 244.2L235.0 243.6L233.5 242.6L230.0 241.5L228.0 241.9L222.0 241.2L215.5 241.2L209.0 241.1L202.5 241.1L196.0 241.1L189.5 241.1L183.0 241.1L176.5 242.0L175.0 242.2L174.5 242.5L173.5 243.1L173.0 243.4L172.5 244.1L172.0 244.8L171.5 245.5L171.0 244.7L170.5 243.7L170.0 242.9L169.5 242.8L168.0 242.0L166.5 241.8L160.0 240.8L153.5 240.6L147.0 240.5L140.5 240.4L134.0 240.3L127.5 240.2L121.0 240.0L114.5 239.9L113.5 237.6L111.5 237.6L105.0 237.6L104.5 237.0L101.0 237.0L94.5 237.0L88.0 237.0L81.5 237.0L75.0 237.0Z" fill="#993300"/>
<path d="M104.0 236.5L104.1 238.8L104.1 245.6L104.1 253.0L105.5 253.0L105.5 245.6L105.5 238.8L105.5 236.5Z" fill="#993300"/>
<path d="M282.4 239.0L282.6 238.1L282.6 235.6L282.6 232.8L283.8 232.8L283.8 235.6L283.8 238.1L283.9 239.0Z" fill="#993300"/>
<path d="M282.4 239.0L282.6 239.6L282.6 241.3L282.6 243.2L283.8 243.2L283.8 241.3L283.8 239.6L283.9 239.0Z" fill="#993300"/>
<path d="M169.1 240.2L170.3 224.8L170.7 197.7L171.0 163.0L172.2 163.0L172.5 197.7L172.9 224.8L174.1 240.2Z" fill="#993300"/>
<path d="M169.6 240.2L170.6 250.9L170.9 259.9L171.1 276.0L172.1 276.0L172.3 259.9L172.6 250.9L173.6 240.2Z" fill="#993300"/>
<path d="M233.9 240.5L235.1 232.3L235.5 217.9L235.8 199.5L237.0 199.5L237.3 217.9L237.7 232.3L238.9 240.5Z" fill="#993300"/>
<path d="M234.4 240.5L235.4 247.6L235.7 253.4L235.9 264.0L236.9 264.0L237.1 253.4L237.4 247.6L238.4 240.5Z" fill="#993300"/>
<path d="M299.7 239.6L300.9 234.3L301.3 225.0L301.6 213.0L302.8 213.0L303.1 225.0L303.5 234.3L304.7 239.6Z" fill="#993300"/>
<path d="M300.2 239.6L301.2 243.0L301.5 245.9L301.7 251.0L302.7 251.0L302.9 245.9L303.2 243.0L304.2 239.6Z" fill="#993300"/>
<path d="M380.5 239.6L381.7 232.1L382.1 219.0L382.4 202.2L383.6 202.2L383.9 219.0L384.3 232.1L385.5 239.6Z" fill="#993300"/>
<path d="M381.0 239.6L382.0 246.3L382.3 251.9L382.5 262.0L383.5 262.0L383.7 251.9L384.0 246.3L385.0 239.6Z" fill="#993300"/>
<path d="M429.7 240.2L430.9 234.6L431.3 224.9L431.6 212.3L432.8 212.3L433.1 224.9L433.5 234.6L434.7 240.2Z" fill="#993300"/>
<path d="M430.2 240.2L431.2 245.8L431.5 250.5L431.7 259.0L432.7 259.0L432.9 250.5L433.2 245.8L434.2 240.2Z" fill="#993300"/>
<path d="M505.1 240.9L506.3 238.1L506.7 233.3L507.0 227.0L508.2 227.0L508.5 233.3L508.9 238.1L510.1 240.9Z" fill="#993300"/>
<path d="M505.6 240.9L506.6 247.2L506.9 252.5L507.1 262.0L508.1 262.0L508.3 252.5L508.6 247.2L509.6 240.9Z" fill="#993300"/>
<path d="M558.0 241.1L559.2 236.3L559.6 228.0L559.9 217.3L561.1 217.3L561.4 228.0L561.8 236.3L563.0 241.1Z" fill="#993300"/>
<path d="M558.5 241.1L559.5 246.2L559.8 250.4L560.0 258.0L561.0 258.0L561.2 250.4L561.5 246.2L562.5 241.1Z" fill="#993300"/>
</g>
<!-- right panel: filtered signals -->
<g id="roman">
<text transform="translate(990.0 247.9) scale(0.8 1)" text-anchor="middle" font-size="33.0" style="fill:#ff0000;stroke:none;letter-spacing:0px">I</text>
<text transform="translate(1058.2 254.7) scale(0.79 1)" text-anchor="middle" font-size="33.0" style="fill:#ff0000;stroke:none;letter-spacing:0px">II</text>
<text transform="translate(1128.3 259.0) scale(0.81 1)" text-anchor="middle" font-size="33.0" style="fill:#ff0000;stroke:none;letter-spacing:0px">III</text>
<text transform="translate(1206.0 262.3) scale(0.78 1)" text-anchor="start" font-size="33.0" style="fill:#ff0000;stroke:none;letter-spacing:-3.6px">IV</text>
<text transform="translate(1271.5 267.7) scale(0.78 1)" text-anchor="middle" font-size="33.0" style="fill:#ff0000;stroke:none;letter-spacing:0px">V</text>
<text transform="translate(1331.3 267.7) scale(0.78 1)" text-anchor="start" font-size="33.0" style="fill:#ff0000;stroke:none;letter-spacing:-3.2px">VI</text>
<text transform="translate(1408 267.6) scale(0.80 1)" text-anchor="middle" font-size="30.5" style="stroke:none;fill:#ff0000;font-family:'Liberation Serif','Noto Serif CJK SC',serif">&#x2166;</text>
</g>
<g stroke="#444444" stroke-width="1.5" fill="none">
<rect x="874.90" y="17.85" width="571.50" height="522.50"/>
<path d="M951.10 540.35v-5.80M951.10 17.85v5.80M1027.30 540.35v-5.80M1027.30 17.85v5.80M1103.50 540.35v-5.80M1103.50 17.85v5.80M1179.70 540.35v-5.80M1179.70 17.85v5.80M1255.90 540.35v-5.80M1255.90 17.85v5.80M1332.10 540.35v-5.80M1332.10 17.85v5.80M1408.30 540.35v-5.80M1408.30 17.85v5.80M874.90 148.47h5.80M1446.40 148.47h-5.80M874.90 279.10h5.80M1446.40 279.10h-5.80M874.90 409.73h5.80M1446.40 409.73h-5.80"/>
</g>
<g id="right-traces">
<path d="M873.0 277.7L873.5 273.3L874.0 273.1L874.5 273.3L875.0 273.5L875.5 273.4L876.0 273.3L876.5 273.3L877.0 274.7L877.5 276.6L878.0 276.9L878.5 276.8L880.0 276.9L881.0 276.8L881.5 276.9L882.0 276.8L882.5 276.7L883.5 276.9L884.5 276.9L885.5 276.8L886.5 277.0L887.5 276.8L889.0 276.8L889.5 277.0L890.5 276.8L892.0 276.9L893.0 276.8L894.0 276.8L895.0 276.9L896.5 276.8L897.0 276.7L898.5 276.9L899.5 276.7L900.5 276.9L901.0 276.7L902.0 276.9L902.5 276.9L903.0 276.4L904.0 274.9L904.5 275.0L905.0 275.5L906.0 276.9L906.5 277.0L907.5 276.9L910.0 276.8L910.5 276.6L911.0 276.6L911.5 274.5L912.0 272.6L912.5 272.4L913.0 272.1L913.5 271.9L914.0 272.2L914.5 272.4L915.0 274.0L915.5 276.2L916.0 276.7L917.0 276.3L918.0 276.3L919.0 276.2L919.5 276.3L920.5 276.5L921.5 276.3L922.0 276.2L923.0 276.3L923.5 276.4L924.0 276.4L924.5 276.1L926.0 276.0L927.0 276.3L927.5 276.2L928.5 276.3L929.5 275.9L930.0 276.1L930.5 276.3L931.0 276.1L931.5 275.9L932.0 276.0L933.0 275.9L934.0 276.0L934.5 275.8L935.5 275.9L936.5 275.8L937.5 275.9L938.0 275.7L938.5 275.8L939.0 275.8L940.0 275.6L941.0 275.7L941.5 275.8L942.0 275.5L942.5 275.6L943.0 275.7L943.5 275.6L944.0 275.6L944.5 275.4L945.0 275.2L945.5 275.2L946.5 275.0L947.0 274.9L947.5 275.1L948.0 275.1L948.5 274.8L949.0 274.8L950.0 275.3L950.5 275.3L951.5 275.1L952.0 274.8L952.5 274.7L953.0 274.8L955.0 274.2L955.5 274.5L956.5 274.3L957.0 274.2L957.5 273.7L958.0 271.8L958.5 268.3L959.0 267.6L959.5 267.2L960.0 270.0L960.5 272.5L961.0 272.4L961.5 272.3L962.0 272.1L962.5 272.0L963.0 266.9L963.5 262.6L964.0 263.7L964.5 263.3L965.0 265.6L965.5 268.7L966.0 267.5L966.5 266.0L967.0 261.5L967.5 256.5L968.0 251.4L968.5 250.1L969.0 250.9L969.5 251.2L970.0 250.4L970.5 250.8L971.0 250.6L971.5 250.6L972.0 251.7L972.5 251.3L973.0 254.9L973.5 256.7L974.0 258.4L974.5 261.2L975.0 263.4L975.5 265.7L976.0 268.8L976.5 271.9L977.0 274.3L977.5 275.6L978.5 275.9L979.0 275.9L979.5 275.7L980.0 275.7L981.0 275.9L981.5 275.9L982.5 276.3L983.0 274.3L983.5 268.6L984.0 268.9L984.5 268.9L985.0 269.7L985.5 270.5L986.0 271.4L986.5 272.1L987.0 274.4L987.5 276.3L990.5 276.5L991.5 276.3L992.5 276.7L993.5 276.6L994.0 276.8L994.5 276.7L995.0 276.6L995.5 276.8L996.5 276.7L997.0 273.7L997.5 273.6L998.0 273.8L998.5 274.0L999.0 274.1L999.5 274.2L1000.5 274.2L1001.0 274.2L1001.5 274.2L1002.0 274.2L1002.5 274.0L1003.0 274.0L1003.5 277.0L1004.5 277.1L1006.0 276.9L1006.5 277.0L1007.0 277.2L1007.5 277.0L1008.5 277.1L1009.5 276.9L1011.0 277.1L1012.0 276.8L1013.0 277.1L1014.0 277.0L1015.0 276.8L1016.0 276.9L1017.5 276.7L1018.0 276.6L1019.0 276.7L1019.5 276.5L1020.0 276.5L1021.0 276.4L1022.5 276.2L1023.0 275.9L1023.5 275.9L1024.5 276.2L1025.0 275.8L1025.5 275.6L1026.0 275.7L1026.5 274.4L1027.0 268.4L1027.5 267.3L1028.0 266.2L1028.5 273.0L1029.0 275.1L1029.5 274.7L1030.0 274.5L1031.0 273.7L1031.5 273.5L1033.0 272.9L1033.5 273.0L1034.0 253.7L1034.5 252.5L1035.0 252.4L1035.5 254.1L1036.0 252.0L1036.5 251.7L1037.0 254.0L1037.5 257.5L1038.0 261.8L1038.5 265.8L1039.0 266.6L1039.5 267.8L1040.0 268.5L1040.5 269.7L1041.0 270.4L1041.5 275.0L1042.0 275.6L1042.5 275.6L1043.5 276.1L1044.5 276.2L1045.0 273.2L1045.5 273.4L1046.0 273.7L1046.5 273.5L1047.0 273.6L1047.5 274.0L1048.0 274.7L1048.5 276.5L1049.5 276.6L1050.5 276.5L1051.0 276.7L1056.0 277.1L1056.5 277.3L1057.5 277.1L1058.5 277.3L1059.5 277.2L1063.0 277.2L1065.0 277.3L1065.5 277.2L1066.5 277.4L1067.0 277.2L1067.5 277.3L1068.5 277.3L1069.5 277.1L1070.5 277.2L1071.5 277.1L1074.0 277.4L1075.0 277.3L1077.5 277.1L1078.5 277.1L1079.0 276.1L1079.5 276.3L1080.5 276.0L1081.0 276.0L1082.0 275.7L1083.0 275.9L1083.5 275.7L1084.0 275.4L1085.0 275.4L1086.0 274.9L1086.5 274.6L1087.0 274.9L1087.5 274.6L1088.0 274.3L1089.0 274.0L1089.5 274.3L1090.5 273.6L1091.0 273.8L1092.0 272.6L1092.5 272.2L1093.0 271.8L1093.5 271.3L1094.0 271.1L1094.5 271.0L1095.0 268.6L1095.5 265.1L1096.0 260.9L1096.5 258.2L1097.0 267.1L1097.5 274.1L1098.0 273.5L1099.0 273.5L1099.5 262.1L1100.0 252.0L1100.5 249.6L1101.0 251.1L1101.5 252.6L1102.0 268.1L1102.5 276.0L1103.0 276.0L1103.5 276.1L1104.0 273.9L1104.5 271.4L1105.0 268.3L1105.5 265.5L1106.0 264.9L1106.5 265.2L1107.0 269.5L1107.5 272.7L1108.0 271.9L1108.5 269.9L1109.0 268.7L1109.5 268.9L1110.0 270.5L1110.5 272.7L1111.0 273.7L1111.5 271.0L1112.0 267.3L1112.5 267.0L1113.0 267.7L1113.5 270.8L1114.0 273.2L1114.5 273.6L1115.0 271.8L1115.5 270.2L1116.0 270.1L1116.5 270.9L1117.0 272.8L1117.5 274.5L1118.0 272.9L1118.5 270.0L1119.0 269.4L1119.5 270.0L1120.0 271.9L1120.5 273.8L1121.0 275.0L1121.5 273.6L1122.0 272.8L1122.5 276.8L1123.0 272.2L1123.5 273.6L1124.0 275.3L1124.5 277.2L1126.0 277.4L1127.5 277.2L1128.5 277.4L1130.0 277.1L1131.5 277.4L1132.5 277.2L1133.0 277.3L1133.5 277.3L1134.0 277.2L1135.0 277.3L1135.5 277.2L1137.0 277.2L1138.5 277.4L1140.0 277.2L1140.5 277.2L1141.0 277.4L1142.0 277.3L1143.0 277.3L1143.5 277.1L1144.5 277.3L1145.0 277.2L1146.5 277.3L1147.0 276.9L1148.5 276.7L1149.0 276.8L1150.0 276.5L1152.0 276.4L1152.5 276.5L1153.0 276.7L1153.5 276.5L1154.0 276.4L1154.5 276.6L1155.5 276.4L1156.5 276.5L1157.0 276.4L1159.0 276.4L1160.0 276.4L1161.0 276.7L1161.5 277.4L1162.5 277.1L1163.5 277.1L1164.5 276.9L1165.0 276.8L1165.5 276.9L1166.5 277.0L1167.0 276.9L1168.5 276.5L1169.5 276.5L1170.0 276.3L1171.0 276.4L1172.0 276.2L1172.5 276.0L1173.0 273.0L1173.5 258.8L1174.0 258.3L1174.5 258.9L1175.0 258.7L1175.5 275.1L1176.0 275.0L1176.5 274.8L1177.0 274.1L1177.5 273.6L1178.0 273.2L1178.5 251.6L1179.0 252.3L1179.5 251.2L1180.0 251.7L1180.5 251.4L1181.0 251.8L1181.5 273.1L1182.0 271.0L1182.5 254.4L1183.0 256.0L1183.5 258.5L1184.0 269.3L1184.5 270.9L1185.0 272.1L1186.0 272.7L1186.5 272.8L1187.0 273.4L1187.5 273.5L1188.5 274.5L1189.0 274.2L1189.5 274.3L1190.0 274.6L1190.5 274.5L1191.0 274.5L1191.5 274.7L1192.0 274.7L1192.5 274.9L1193.0 275.2L1193.5 275.3L1194.0 275.2L1194.5 275.0L1195.0 275.1L1195.5 275.4L1196.5 275.4L1197.5 275.6L1198.5 275.9L1199.0 275.9L1199.5 275.8L1200.0 275.5L1200.5 275.7L1201.5 275.8L1202.0 276.1L1202.5 276.0L1203.0 275.9L1204.0 276.2L1204.5 275.9L1205.5 275.9L1206.0 275.6L1207.0 275.7L1207.5 275.7L1208.0 275.5L1209.0 275.8L1211.0 274.7L1212.0 274.5L1212.5 274.8L1213.5 274.8L1214.0 275.1L1215.5 275.4L1216.0 275.0L1216.5 274.8L1217.0 274.8L1217.5 274.7L1218.0 274.4L1218.5 274.8L1219.0 275.2L1219.5 274.9L1220.0 275.0L1220.5 275.3L1221.0 275.2L1221.5 267.0L1222.0 265.9L1222.5 265.0L1223.0 266.1L1223.5 266.4L1224.0 266.2L1224.5 265.5L1225.0 264.5L1225.5 265.2L1226.0 266.3L1226.5 260.7L1227.0 256.4L1227.5 253.8L1228.0 252.3L1228.5 254.5L1229.0 256.4L1229.5 262.2L1230.0 266.6L1230.5 266.7L1231.0 265.6L1231.5 265.2L1232.0 266.1L1232.5 266.4L1233.0 266.2L1233.5 265.8L1234.0 265.6L1234.5 267.7L1235.0 274.7L1235.5 275.1L1236.5 275.3L1238.0 276.1L1238.5 276.0L1239.5 276.4L1240.0 276.5L1240.5 276.4L1241.0 276.4L1242.0 276.5L1243.0 277.0L1244.0 277.0L1245.5 277.1L1247.5 277.1L1249.0 277.4L1250.0 277.3L1251.0 277.6L1252.0 277.7L1254.0 277.5L1255.5 277.5L1256.5 277.5L1257.0 277.4L1259.0 277.7L1261.0 277.6L1261.5 277.2L1262.5 275.7L1263.0 276.0L1263.5 276.9L1264.0 277.5L1265.0 277.6L1266.5 277.6L1268.0 277.5L1269.0 277.7L1270.5 277.5L1272.0 277.6L1273.0 277.5L1275.0 277.5L1276.0 277.4L1277.0 277.6L1280.0 277.5L1281.0 277.6L1282.0 277.4L1283.5 277.6L1285.0 277.6L1286.0 277.5L1287.0 277.5L1288.0 277.3L1288.5 277.4L1289.5 277.1L1290.0 277.0L1291.0 276.4L1291.5 276.6L1292.0 276.5L1292.5 274.0L1293.0 270.7L1293.5 269.1L1294.0 268.7L1294.5 269.3L1295.0 272.8L1295.5 276.3L1296.0 274.9L1296.5 271.4L1297.0 268.2L1297.5 267.8L1298.0 267.8L1298.5 271.5L1299.0 275.4L1299.5 275.4L1300.0 275.0L1300.5 268.3L1301.0 268.2L1301.5 267.9L1302.0 270.6L1302.5 272.9L1303.0 272.9L1303.5 272.7L1304.0 272.9L1304.5 273.7L1305.0 274.4L1306.0 275.2L1306.5 273.6L1307.0 270.1L1307.5 266.7L1308.0 266.4L1308.5 266.8L1309.0 270.4L1309.5 274.1L1310.0 275.4L1310.5 273.2L1311.0 271.3L1311.5 270.7L1312.0 271.8L1312.5 274.2L1313.0 276.0L1313.5 274.1L1314.0 271.5L1314.5 270.1L1315.0 270.0L1315.5 271.4L1316.0 274.3L1316.5 276.9L1317.0 275.9L1317.5 274.0L1318.0 274.7L1318.5 275.9L1319.0 275.0L1319.5 276.6L1320.0 277.3L1320.5 277.2L1321.0 276.7L1322.0 276.4L1323.5 276.3L1324.5 276.1L1325.5 276.3L1326.5 276.2L1328.5 276.3L1329.5 276.1L1330.0 276.2L1331.0 276.1L1332.0 276.0L1332.5 276.1L1334.0 275.8L1334.5 275.8L1335.0 276.0L1336.0 275.9L1337.0 276.2L1337.5 276.5L1339.0 276.3L1339.5 276.1L1340.5 275.9L1341.5 276.2L1342.0 276.0L1343.0 275.7L1343.5 275.3L1344.0 275.0L1344.5 274.9L1345.0 274.7L1345.5 274.4L1346.0 274.0L1346.5 273.8L1347.0 274.2L1347.5 273.2L1348.0 268.9L1348.5 265.1L1349.0 264.6L1349.5 264.9L1350.0 270.0L1350.5 274.2L1351.0 270.3L1351.5 265.0L1352.0 262.8L1352.5 262.3L1353.0 264.9L1353.5 270.9L1354.0 272.6L1354.5 251.9L1355.0 259.9L1355.5 251.1L1356.0 258.1L1356.5 253.1L1357.0 265.8L1357.5 271.1L1358.0 269.6L1358.5 269.0L1359.0 269.8L1359.5 270.2L1360.0 270.4L1360.5 270.8L1361.0 270.8L1361.5 271.1L1362.0 271.6L1363.0 271.9L1363.5 272.0L1364.0 272.6L1364.5 273.0L1365.0 273.3L1365.5 273.3L1366.5 273.8L1367.0 274.1L1367.5 274.4L1368.0 274.2L1368.5 274.4L1369.0 274.8L1369.5 275.0L1370.0 275.0L1370.5 275.3L1371.0 275.3L1371.5 275.2L1373.0 275.9L1373.5 275.9L1374.0 275.8L1374.5 275.8L1375.5 276.0L1376.0 276.1L1376.5 275.9L1377.5 276.3L1378.0 276.2L1378.5 276.1L1379.5 276.4L1381.0 276.5L1382.0 276.3L1382.5 276.3L1383.0 276.3L1383.5 276.4L1385.5 276.5L1387.0 276.7L1387.5 275.9L1388.0 272.3L1388.5 272.0L1389.0 272.1L1389.5 271.9L1390.0 272.0L1390.5 279.0L1390.5 279.0L1390.0 285.2L1389.5 285.7L1389.0 286.1L1388.5 285.9L1388.0 286.0L1387.5 282.4L1387.0 281.4L1385.5 281.4L1383.5 281.4L1383.0 281.6L1382.5 281.6L1382.0 281.5L1381.0 281.7L1379.5 281.6L1378.5 281.8L1378.0 281.6L1377.5 281.6L1376.5 281.9L1376.0 281.9L1375.5 282.0L1374.5 282.0L1374.0 282.3L1373.5 282.5L1373.0 282.4L1371.5 282.5L1371.0 282.7L1370.5 282.7L1370.0 282.8L1369.5 282.9L1369.0 282.8L1368.5 283.3L1368.0 283.8L1367.5 284.0L1367.0 284.1L1366.5 283.9L1365.5 284.4L1365.0 284.6L1364.5 285.1L1364.0 285.8L1363.5 286.1L1363.0 286.3L1362.0 286.3L1361.5 286.4L1361.0 286.3L1360.5 287.0L1360.0 288.0L1359.5 288.3L1359.0 288.7L1358.5 288.7L1358.0 287.3L1357.5 286.5L1357.0 292.9L1356.5 307.5L1356.0 300.6L1355.5 306.1L1355.0 299.0L1354.5 307.4L1354.0 284.8L1353.5 287.1L1353.0 293.7L1352.5 296.0L1352.0 295.9L1351.5 294.1L1351.0 288.4L1350.5 283.9L1350.0 288.1L1349.5 293.5L1349.0 294.0L1348.5 293.8L1348.0 289.5L1347.5 284.8L1347.0 284.1L1346.5 284.2L1346.0 284.0L1345.5 283.5L1345.0 282.9L1344.5 283.1L1344.0 283.1L1343.5 282.5L1343.0 282.2L1342.0 281.8L1341.5 281.9L1340.5 281.9L1339.5 281.9L1339.0 281.7L1337.5 281.8L1337.0 281.9L1336.0 281.7L1335.0 282.1L1334.5 282.0L1334.0 281.9L1332.5 282.0L1332.0 282.1L1331.0 281.7L1330.0 281.8L1329.5 281.6L1328.5 281.7L1326.5 281.8L1325.5 282.0L1324.5 281.7L1323.5 281.9L1322.0 281.8L1321.0 281.3L1320.5 281.0L1320.0 280.7L1319.5 281.3L1319.0 283.1L1318.5 282.3L1318.0 283.2L1317.5 283.6L1317.0 282.1L1316.5 281.1L1316.0 283.7L1315.5 286.3L1315.0 287.6L1314.5 288.0L1314.0 286.8L1313.5 283.8L1313.0 281.8L1312.5 283.5L1312.0 285.9L1311.5 286.9L1311.0 286.9L1310.5 285.4L1310.0 282.6L1309.5 283.4L1309.0 287.1L1308.5 290.4L1308.0 290.8L1307.5 291.0L1307.0 288.4L1306.5 284.7L1306.0 283.0L1305.0 283.3L1304.5 284.1L1304.0 285.1L1303.5 285.1L1303.0 284.6L1302.5 284.7L1302.0 286.9L1301.5 290.4L1301.0 290.6L1300.5 289.7L1300.0 282.9L1299.5 282.6L1299.0 282.4L1298.5 286.4L1298.0 290.0L1297.5 289.4L1297.0 290.0L1296.5 287.3L1296.0 283.5L1295.5 281.9L1295.0 285.7L1294.5 289.0L1294.0 289.3L1293.5 288.9L1293.0 287.3L1292.5 284.1L1292.0 281.7L1291.5 281.6L1291.0 281.5L1290.0 281.0L1289.5 280.9L1288.5 280.8L1288.0 280.6L1287.0 280.7L1286.0 280.4L1285.0 280.5L1283.5 280.4L1282.0 280.4L1281.0 280.5L1280.0 280.4L1277.0 280.4L1276.0 280.4L1275.0 280.6L1273.0 280.5L1272.0 280.5L1270.5 280.4L1269.0 280.5L1268.0 280.5L1266.5 280.4L1265.0 280.4L1264.0 280.5L1263.5 281.2L1263.0 281.8L1262.5 282.3L1261.5 280.6L1261.0 280.4L1259.0 280.4L1257.0 280.5L1256.5 280.5L1255.5 280.3L1254.0 280.5L1252.0 280.4L1251.0 280.5L1250.0 280.6L1249.0 280.7L1247.5 280.7L1245.5 281.0L1244.0 280.9L1243.0 281.1L1242.0 281.3L1241.0 281.5L1240.5 281.8L1240.0 281.9L1239.5 281.8L1238.5 282.1L1238.0 282.0L1236.5 282.7L1235.5 282.9L1235.0 283.1L1234.5 288.9L1234.0 291.4L1233.5 292.2L1233.0 291.7L1232.5 291.8L1232.0 292.0L1231.5 292.0L1231.0 292.2L1230.5 292.2L1230.0 291.9L1229.5 295.5L1229.0 303.4L1228.5 305.6L1228.0 304.1L1227.5 304.1L1227.0 303.5L1226.5 297.3L1226.0 290.8L1225.5 291.9L1225.0 292.9L1224.5 292.2L1224.0 291.3L1223.5 291.4L1223.0 291.9L1222.5 291.2L1222.0 290.8L1221.5 291.3L1221.0 282.9L1220.5 283.0L1220.0 283.1L1219.5 282.9L1219.0 283.1L1218.5 283.2L1218.0 283.0L1217.5 283.0L1217.0 283.3L1216.5 283.0L1216.0 282.6L1215.5 282.7L1214.0 282.8L1213.5 282.9L1212.5 283.0L1212.0 283.2L1211.0 283.2L1209.0 282.5L1208.0 282.5L1207.5 282.3L1207.0 282.5L1206.0 282.4L1205.5 282.5L1204.5 281.9L1204.0 281.8L1203.0 282.1L1202.5 282.2L1202.0 282.3L1201.5 282.2L1200.5 282.0L1200.0 282.2L1199.5 282.5L1199.0 282.5L1198.5 282.3L1197.5 282.2L1196.5 282.7L1195.5 282.5L1195.0 282.7L1194.5 282.7L1194.0 282.6L1193.5 282.7L1193.0 283.0L1192.5 283.0L1192.0 282.9L1191.5 283.0L1191.0 283.1L1190.5 283.4L1190.0 283.6L1189.5 283.5L1189.0 283.7L1188.5 283.7L1187.5 284.3L1187.0 284.6L1186.5 284.9L1186.0 285.3L1185.0 286.1L1184.5 287.0L1184.0 288.0L1183.5 301.0L1183.0 304.6L1182.5 304.4L1182.0 286.9L1181.5 284.9L1181.0 304.6L1180.5 306.3L1180.0 307.9L1179.5 307.6L1179.0 306.0L1178.5 304.2L1178.0 284.5L1177.5 284.6L1177.0 284.0L1176.5 283.6L1176.0 283.2L1175.5 282.4L1175.0 299.5L1174.5 300.4L1174.0 298.5L1173.5 297.0L1173.0 284.6L1172.5 282.0L1172.0 282.1L1171.0 281.7L1170.0 281.4L1169.5 281.6L1168.5 281.4L1167.0 281.2L1166.5 281.3L1165.5 281.0L1165.0 281.1L1164.5 281.1L1163.5 280.9L1162.5 281.0L1161.5 280.8L1161.0 281.6L1160.0 281.7L1159.0 281.5L1157.0 281.5L1156.5 281.7L1155.5 281.6L1154.5 281.6L1154.0 281.4L1153.5 281.3L1153.0 281.5L1152.5 281.7L1152.0 281.5L1150.0 281.2L1149.0 281.4L1148.5 281.3L1147.0 281.3L1146.5 280.8L1145.0 280.7L1144.5 280.8L1143.5 280.7L1143.0 280.8L1142.0 280.8L1141.0 280.8L1140.5 280.9L1140.0 280.7L1138.5 280.7L1137.0 280.8L1135.5 280.7L1135.0 280.7L1134.0 280.8L1133.5 280.7L1133.0 280.8L1132.5 280.8L1131.5 280.7L1130.0 280.7L1128.5 280.8L1127.5 280.7L1126.0 280.6L1124.5 280.7L1124.0 282.6L1123.5 284.2L1123.0 285.8L1122.5 281.2L1122.0 285.1L1121.5 285.0L1121.0 283.2L1120.5 284.4L1120.0 286.9L1119.5 288.5L1119.0 288.0L1118.5 287.9L1118.0 286.0L1117.5 283.8L1117.0 284.9L1116.5 286.8L1116.0 287.7L1115.5 288.0L1115.0 286.9L1114.5 284.5L1114.0 284.6L1113.5 287.3L1113.0 290.6L1112.5 291.4L1112.0 291.1L1111.5 288.1L1111.0 285.0L1110.5 285.8L1110.0 288.1L1109.5 289.7L1109.0 290.3L1108.5 289.2L1108.0 286.0L1107.5 285.0L1107.0 288.7L1106.5 292.2L1106.0 292.7L1105.5 293.2L1105.0 289.5L1104.5 286.0L1104.0 284.2L1103.5 281.9L1103.0 281.8L1102.5 281.9L1102.0 289.5L1101.5 306.4L1101.0 306.0L1100.5 304.3L1100.0 304.7L1099.5 296.5L1099.0 284.8L1098.0 285.0L1097.5 284.1L1097.0 291.3L1096.5 300.4L1096.0 296.8L1095.5 292.5L1095.0 290.2L1094.5 287.3L1094.0 286.7L1093.5 286.7L1093.0 286.1L1092.5 285.1L1092.0 284.8L1091.0 284.5L1090.5 284.5L1089.5 284.0L1089.0 283.5L1088.0 283.2L1087.5 283.2L1087.0 283.5L1086.5 283.1L1086.0 282.8L1085.0 282.9L1084.0 282.2L1083.5 282.3L1083.0 282.1L1082.0 282.2L1081.0 282.2L1080.5 281.9L1079.5 281.8L1079.0 281.7L1078.5 280.7L1077.5 280.9L1075.0 280.7L1074.0 280.9L1071.5 280.8L1070.5 280.6L1069.5 280.8L1068.5 280.6L1067.5 280.8L1067.0 280.8L1066.5 280.8L1065.5 280.7L1065.0 280.8L1063.0 280.7L1059.5 280.7L1058.5 280.8L1057.5 280.8L1056.5 280.9L1056.0 280.9L1051.0 281.4L1050.5 281.5L1049.5 281.5L1048.5 281.7L1048.0 283.6L1047.5 283.9L1047.0 283.9L1046.5 284.3L1046.0 284.4L1045.5 284.8L1045.0 285.5L1044.5 282.2L1043.5 282.0L1042.5 282.1L1042.0 282.3L1041.5 282.8L1041.0 287.4L1040.5 288.5L1040.0 289.3L1039.5 290.2L1039.0 291.8L1038.5 293.1L1038.0 296.6L1037.5 301.6L1037.0 306.7L1036.5 304.4L1036.0 303.9L1035.5 304.9L1035.0 305.7L1034.5 305.6L1034.0 305.4L1033.5 284.9L1033.0 284.6L1031.5 284.9L1031.0 284.2L1030.0 283.6L1029.5 282.9L1029.0 283.0L1028.5 285.0L1028.0 292.2L1027.5 290.9L1027.0 288.7L1026.5 283.9L1026.0 282.5L1025.5 282.1L1025.0 281.9L1024.5 282.0L1023.5 282.0L1023.0 282.0L1022.5 281.9L1021.0 281.7L1020.0 281.4L1019.5 281.6L1019.0 281.5L1018.0 281.5L1017.5 281.3L1016.0 281.0L1015.0 280.9L1014.0 281.1L1013.0 281.0L1012.0 281.0L1011.0 281.0L1009.5 280.9L1008.5 281.1L1007.5 280.8L1007.0 280.9L1006.5 281.1L1006.0 281.0L1004.5 280.9L1003.5 281.0L1003.0 283.7L1002.5 283.8L1002.0 284.1L1001.5 284.0L1001.0 283.7L1000.5 283.6L999.5 284.2L999.0 284.1L998.5 284.2L998.0 284.5L997.5 284.5L997.0 284.3L996.5 281.3L995.5 281.3L995.0 281.2L994.5 281.1L994.0 281.2L993.5 281.3L992.5 281.5L991.5 281.3L990.5 281.6L987.5 281.6L987.0 283.2L986.5 286.1L986.0 287.2L985.5 287.7L985.0 288.0L984.5 288.7L984.0 289.3L983.5 289.6L983.0 283.7L982.5 281.9L981.5 282.0L981.0 282.0L980.0 281.9L979.5 282.1L979.0 282.3L978.5 282.2L977.5 282.7L977.0 283.9L976.5 286.2L976.0 289.0L975.5 292.4L975.0 294.5L974.5 295.7L974.0 297.1L973.5 299.8L973.0 301.9L972.5 305.4L972.0 305.8L971.5 305.1L971.0 305.0L970.5 306.5L970.0 307.8L969.5 307.2L969.0 306.5L968.5 305.9L968.0 306.2L967.5 302.0L967.0 296.4L966.5 291.5L966.0 289.7L965.5 288.8L965.0 292.2L964.5 294.7L964.0 295.2L963.5 295.5L963.0 291.1L962.5 286.7L962.0 286.4L961.5 286.3L961.0 286.0L960.5 285.3L960.0 287.8L959.5 291.6L959.0 292.0L958.5 290.1L958.0 285.8L957.5 284.2L957.0 283.9L956.5 284.1L955.5 284.0L955.0 284.0L953.0 283.2L952.5 283.3L952.0 283.4L951.5 283.0L950.5 283.3L950.0 283.2L949.0 283.1L948.5 282.9L948.0 283.0L947.5 283.1L947.0 282.9L946.5 282.6L945.5 282.7L945.0 282.6L944.5 282.4L944.0 282.5L943.5 282.5L943.0 282.2L942.5 282.1L942.0 282.3L941.5 282.6L941.0 282.5L940.0 282.2L939.0 282.0L938.5 281.9L938.0 282.0L937.5 282.3L936.5 282.1L935.5 282.2L934.5 282.1L934.0 282.1L933.0 282.2L932.0 281.8L931.5 282.0L931.0 282.1L930.5 281.9L930.0 281.8L929.5 282.0L928.5 281.8L927.5 282.0L927.0 281.8L926.0 281.6L924.5 281.8L924.0 281.7L923.5 281.6L923.0 281.8L922.0 281.6L921.5 281.8L920.5 281.4L919.5 281.7L919.0 281.6L918.0 281.7L917.0 281.5L916.0 281.6L915.5 282.1L915.0 284.0L914.5 285.1L914.0 285.6L913.5 286.3L913.0 286.4L912.5 286.2L912.0 285.3L911.5 283.0L911.0 281.3L910.5 281.3L910.0 281.3L907.5 281.1L906.5 281.2L906.0 281.0L905.0 282.5L904.5 283.0L904.0 283.0L903.0 281.9L902.5 281.2L902.0 281.1L901.0 281.2L900.5 281.2L899.5 281.2L898.5 281.1L897.0 281.1L896.5 281.1L895.0 281.3L894.0 281.3L893.0 281.2L892.0 281.2L890.5 281.3L889.5 281.0L889.0 281.0L887.5 281.1L886.5 281.2L885.5 281.3L884.5 281.1L883.5 281.2L882.5 281.0L882.0 281.0L881.5 281.2L881.0 281.3L880.0 281.3L878.5 281.3L878.0 281.3L877.5 281.6L877.0 283.1L876.5 284.4L876.0 284.3L875.5 284.7L875.0 285.0L874.5 284.9L874.0 284.6L873.5 284.5L873.0 280.3Z" fill="#000000"/>
<path d="M965.6 279.0L965.9 264.0L966.3 254.0L967.5 239.0L968.1 219.0L968.5 129.0L968.7 54.0L968.9 42.2L969.4 41.0L970.6 41.0L971.1 42.2L971.3 54.0L971.4 129.0L971.5 219.0L971.6 239.0L971.8 254.0L971.8 264.0L971.8 279.0Z" fill="#000000"/>
<path d="M965.6 279.0L965.9 294.0L966.3 304.0L967.5 319.0L968.1 339.0L968.5 429.0L968.7 504.0L968.9 515.3L969.4 516.5L970.6 516.5L971.1 515.3L971.3 504.0L971.4 429.0L971.5 339.0L971.6 319.0L971.8 304.0L971.8 294.0L971.8 279.0Z" fill="#000000"/>
<path d="M1032.0 279.0L1032.7 254.0L1033.0 239.0L1033.3 199.0L1033.4 139.0L1033.5 109.0L1033.7 95.2L1034.2 94.0L1035.4 94.0L1035.9 95.2L1036.2 109.0L1036.5 139.0L1037.1 199.0L1037.7 239.0L1038.0 254.0L1038.4 279.0Z" fill="#000000"/>
<path d="M1032.0 279.0L1032.7 304.0L1033.0 319.0L1033.3 359.0L1033.4 419.0L1033.5 449.0L1033.7 462.3L1034.2 463.5L1035.4 463.5L1035.9 462.3L1036.2 449.0L1036.5 419.0L1037.1 359.0L1037.7 319.0L1038.0 304.0L1038.4 279.0Z" fill="#000000"/>
<path d="M1097.6 279.0L1098.0 249.0L1098.2 227.0L1098.4 199.0L1098.5 187.0L1098.7 177.2L1099.2 176.0L1100.4 176.0L1100.9 177.2L1101.2 187.0L1101.6 199.0L1102.5 227.0L1102.6 249.0L1102.8 279.0Z" fill="#000000"/>
<path d="M1097.6 279.0L1098.0 309.0L1098.2 331.0L1098.4 359.0L1098.5 371.0L1098.7 380.3L1099.2 381.5L1100.4 381.5L1100.9 380.3L1101.2 371.0L1101.6 359.0L1102.5 331.0L1102.6 309.0L1102.8 279.0Z" fill="#000000"/>
<path d="M1177.2 279.0L1177.5 259.0L1177.8 239.0L1178.3 231.0L1178.6 199.0L1178.8 190.7L1179.3 189.5L1180.5 189.5L1181.0 190.7L1181.2 199.0L1181.5 231.0L1182.0 239.0L1182.3 259.0L1182.6 279.0Z" fill="#000000"/>
<path d="M1177.2 279.0L1177.5 299.0L1177.8 319.0L1178.3 327.0L1178.6 359.0L1178.8 366.8L1179.3 368.0L1180.5 368.0L1181.0 366.8L1181.2 359.0L1181.5 327.0L1182.0 319.0L1182.3 299.0L1182.6 279.0Z" fill="#000000"/>
<path d="M1225.8 279.0L1226.2 239.0L1226.6 215.0L1226.9 206.7L1227.4 205.5L1228.6 205.5L1229.1 206.7L1229.4 215.0L1229.8 239.0L1230.2 279.0Z" fill="#000000"/>
<path d="M1225.8 279.0L1226.2 319.0L1226.6 343.0L1226.9 351.3L1227.4 352.5L1228.6 352.5L1229.1 351.3L1229.4 343.0L1229.8 319.0L1230.2 279.0Z" fill="#000000"/>
<path d="M1301.7 279.0L1301.8 235.0L1301.9 227.7L1302.4 226.5L1303.6 226.5L1304.1 227.7L1304.2 235.0L1304.3 279.0Z" fill="#000000"/>
<path d="M1301.7 279.0L1301.8 323.0L1301.9 329.3L1302.4 330.5L1303.6 330.5L1304.1 329.3L1304.2 323.0L1304.3 279.0Z" fill="#000000"/>
<path d="M1353.0 279.0L1353.4 269.0L1353.6 263.0L1353.8 257.0L1354.1 243.0L1354.3 236.2L1354.8 235.0L1356.0 235.0L1356.5 236.2L1356.8 243.0L1357.6 257.0L1359.2 263.0L1359.6 269.0L1359.8 279.0Z" fill="#000000"/>
<path d="M1353.0 279.0L1353.4 289.0L1353.6 295.0L1353.8 301.0L1354.1 315.0L1354.3 321.3L1354.8 322.5L1356.0 322.5L1356.5 321.3L1356.8 315.0L1357.6 301.0L1359.2 295.0L1359.6 289.0L1359.8 279.0Z" fill="#000000"/>
<path d="M873.0 279.0L879.5 279.0L886.0 279.0L892.5 279.0L899.0 279.0L902.5 279.0L903.0 275.5L903.5 274.0L904.0 273.2L904.5 273.6L905.0 274.5L905.5 275.8L906.0 279.0L911.5 279.0L912.0 275.8L912.5 274.5L913.0 273.9L913.5 273.9L914.0 274.3L914.5 275.3L915.0 276.7L915.5 279.0L922.0 279.0L928.5 279.0L935.0 279.0L941.5 279.0L948.0 279.0L951.0 279.0L951.5 276.8L952.0 276.7L954.0 276.5L955.5 276.3L957.5 275.6L959.0 275.6L959.5 275.2L960.0 275.1L961.0 274.4L962.0 273.8L963.0 273.2L963.5 273.0L964.0 272.7L964.5 272.0L965.0 271.6L966.0 270.9L966.5 270.3L967.0 269.7L967.5 268.4L968.0 266.8L968.5 265.7L969.0 263.6L969.5 262.4L970.0 261.9L970.5 262.5L971.0 261.5L971.5 262.3L972.0 262.2L972.5 263.1L973.0 263.0L973.5 262.9L974.0 262.1L974.5 261.9L975.0 262.3L975.5 262.4L976.0 262.4L976.5 261.9L977.0 261.7L977.5 262.8L978.0 263.9L978.5 265.4L979.0 266.1L979.5 267.0L980.0 267.6L980.5 268.3L981.0 268.9L981.5 269.6L982.0 270.0L982.5 270.5L983.0 270.8L983.5 271.6L984.0 272.0L984.5 272.5L985.0 272.5L985.5 272.8L986.0 272.8L986.5 273.3L987.0 273.3L987.5 273.5L988.0 273.5L988.5 273.9L989.5 274.2L990.0 274.2L990.5 274.4L991.5 274.6L992.0 274.5L992.5 274.8L993.0 274.7L993.5 274.9L994.0 274.8L994.5 275.0L995.0 275.1L995.5 275.4L996.0 275.4L997.0 275.4L997.5 275.2L998.0 275.2L999.0 275.4L999.5 275.4L1000.5 275.2L1002.0 275.6L1003.0 275.5L1004.0 275.6L1005.0 275.3L1005.5 275.3L1006.5 275.5L1007.5 275.8L1008.0 275.6L1008.5 275.6L1009.0 275.4L1009.5 275.5L1010.0 275.4L1010.5 275.4L1011.5 275.4L1012.0 275.5L1013.5 275.3L1014.0 275.4L1015.0 275.1L1016.5 274.9L1017.0 274.8L1018.0 275.0L1018.5 274.7L1019.5 274.1L1021.0 273.9L1021.5 273.8L1022.0 273.3L1023.0 272.7L1023.5 272.6L1024.0 272.2L1024.5 272.1L1025.0 271.4L1025.5 271.1L1026.0 270.3L1026.5 269.7L1027.0 269.0L1027.5 268.7L1028.0 268.2L1028.5 266.9L1029.0 264.8L1029.5 263.3L1030.0 261.6L1031.0 260.7L1031.5 261.6L1032.0 262.5L1032.5 263.0L1033.0 263.1L1033.5 262.2L1034.0 262.0L1034.5 261.1L1035.0 261.6L1035.5 261.6L1036.0 262.6L1036.5 262.7L1037.0 263.4L1037.5 264.8L1038.0 265.9L1038.5 267.4L1039.0 268.6L1039.5 269.1L1040.0 269.3L1040.5 269.6L1041.0 270.3L1041.5 271.0L1042.0 272.0L1042.5 272.6L1043.0 272.8L1044.0 273.3L1045.5 274.0L1046.0 274.3L1047.0 274.9L1048.5 275.1L1049.5 275.6L1051.0 275.8L1052.0 276.1L1053.0 276.1L1053.5 276.2L1055.0 276.7L1057.5 276.7L1062.0 276.9L1062.5 276.8L1068.0 277.2L1069.5 277.0L1071.0 277.2L1071.5 277.1L1072.0 277.2L1073.5 277.0L1074.0 277.1L1075.5 277.1L1076.5 277.2L1078.0 276.7L1079.5 276.6L1080.5 276.6L1081.0 276.7L1082.5 276.2L1083.0 276.2L1084.5 275.4L1085.5 275.0L1086.5 274.2L1087.0 274.0L1087.5 273.9L1088.5 272.9L1089.0 272.1L1089.5 271.8L1090.0 271.0L1090.5 270.9L1091.5 269.7L1092.0 268.6L1092.5 267.8L1093.0 266.5L1093.5 263.9L1094.0 261.5L1095.0 261.3L1095.5 261.3L1096.0 261.5L1096.5 262.4L1097.0 261.9L1097.5 262.6L1098.0 261.9L1098.5 262.6L1099.5 262.2L1100.0 261.3L1100.5 260.4L1101.0 261.6L1101.5 262.0L1102.0 262.2L1102.5 261.5L1103.0 261.4L1103.5 261.9L1104.0 269.1L1104.5 273.9L1105.0 270.7L1105.5 267.6L1106.0 267.4L1106.5 267.6L1107.0 271.3L1107.5 275.1L1108.0 274.7L1108.5 272.3L1109.0 271.6L1109.5 271.3L1110.0 272.3L1110.5 274.9L1111.0 275.8L1111.5 272.9L1112.0 269.5L1112.5 269.2L1113.0 269.6L1113.5 272.6L1114.0 275.5L1114.5 276.0L1115.0 273.8L1115.5 272.7L1116.0 272.7L1116.5 273.6L1117.0 275.5L1117.5 276.7L1118.0 274.6L1118.5 272.1L1119.0 271.7L1119.5 272.0L1120.0 273.8L1120.5 276.1L1121.0 277.2L1121.5 275.6L1122.0 274.5L1122.5 274.2L1123.0 274.4L1123.5 276.1L1124.0 277.4L1128.5 277.3L1130.0 277.4L1132.0 277.2L1132.5 277.3L1135.5 277.3L1139.0 277.4L1142.5 277.2L1144.0 277.3L1147.0 277.4L1150.0 277.2L1152.0 277.4L1158.5 277.0L1160.0 276.7L1160.5 276.8L1162.0 276.4L1162.5 276.0L1163.0 275.7L1163.5 275.2L1164.0 274.6L1164.5 273.4L1165.0 272.4L1165.5 271.5L1166.0 270.9L1166.5 270.6L1167.5 270.4L1168.0 270.6L1168.5 270.7L1169.0 270.8L1169.5 271.2L1170.0 270.4L1170.5 269.7L1171.0 268.5L1171.5 267.6L1172.0 266.5L1172.5 265.4L1173.0 265.1L1173.5 264.5L1174.0 264.7L1174.5 264.2L1175.0 264.1L1175.5 263.5L1176.0 263.4L1176.5 264.2L1177.0 264.9L1177.5 265.0L1178.0 265.0L1178.5 264.9L1179.0 265.4L1179.5 264.9L1180.0 261.5L1180.5 261.2L1181.0 261.4L1181.5 261.8L1182.0 265.3L1182.5 271.2L1183.0 271.6L1183.5 272.0L1184.0 272.3L1184.5 273.1L1185.0 273.4L1185.5 273.9L1186.0 274.2L1186.5 274.5L1187.0 274.8L1187.5 275.1L1188.5 275.3L1189.0 275.2L1189.5 275.3L1191.0 275.7L1191.5 275.7L1193.0 276.2L1194.0 276.2L1195.5 276.4L1198.5 276.5L1199.0 276.7L1200.5 276.6L1202.0 276.8L1204.0 276.7L1207.0 276.8L1208.5 276.8L1209.0 276.9L1210.5 276.8L1212.0 276.8L1213.0 276.7L1213.5 276.7L1214.0 276.9L1216.0 276.7L1216.5 276.8L1218.0 276.7L1220.5 276.4L1221.5 276.3L1222.5 276.1L1223.0 275.9L1223.5 276.0L1224.5 276.0L1226.0 276.0L1226.5 273.8L1227.5 268.7L1228.0 265.7L1228.5 268.2L1229.0 270.9L1229.5 273.5L1230.0 276.0L1230.5 276.2L1232.5 276.1L1233.5 276.0L1234.0 276.2L1235.5 276.5L1236.5 276.6L1238.0 276.8L1244.5 277.4L1251.0 277.7L1253.0 277.5L1259.0 277.6L1261.5 277.7L1263.0 277.5L1269.5 277.7L1273.5 277.6L1280.0 277.5L1281.0 277.6L1287.5 277.6L1290.0 277.3L1292.5 276.4L1294.0 276.2L1295.5 275.6L1297.0 275.2L1298.0 274.7L1298.5 273.6L1299.0 273.0L1299.5 272.5L1300.0 271.9L1300.5 271.0L1301.0 264.9L1301.5 261.6L1302.0 261.9L1302.5 261.8L1303.0 261.7L1303.5 261.9L1304.0 262.0L1304.5 262.1L1305.0 261.7L1305.5 267.1L1306.0 272.7L1306.5 275.6L1307.0 271.8L1307.5 268.6L1308.0 268.7L1308.5 269.2L1309.0 272.8L1309.5 276.2L1310.0 276.2L1310.5 274.6L1311.0 273.7L1311.5 273.7L1312.0 274.0L1312.5 275.8L1313.0 276.7L1313.5 275.9L1314.0 273.6L1314.5 272.8L1315.0 272.7L1315.5 273.4L1316.0 275.6L1316.5 277.0L1317.0 277.0L1317.5 276.6L1318.0 276.7L1318.5 277.0L1319.0 277.0L1319.5 277.2L1321.5 277.4L1324.5 277.2L1330.0 277.1L1331.5 277.1L1333.0 277.2L1333.5 277.2L1335.0 277.2L1336.0 277.1L1336.5 277.1L1337.5 277.2L1340.0 277.2L1342.5 276.7L1343.0 276.7L1343.5 276.6L1346.5 275.5L1347.0 275.3L1347.5 275.0L1348.0 274.8L1349.0 274.6L1349.5 274.4L1351.0 273.7L1352.5 273.5L1353.0 273.1L1353.5 272.7L1354.0 272.1L1354.5 271.7L1355.0 271.2L1355.5 267.8L1356.0 264.3L1356.5 261.3L1357.0 261.7L1357.5 264.2L1358.0 267.2L1358.5 270.2L1359.0 271.5L1359.5 272.2L1360.5 273.5L1361.0 273.6L1361.5 273.9L1362.5 274.8L1363.0 275.0L1364.0 275.4L1365.0 276.2L1365.5 276.5L1366.5 276.4L1368.5 276.9L1369.0 277.1L1370.5 277.1L1372.0 277.4L1376.5 277.2L1377.5 277.3L1379.0 277.2L1385.5 277.3L1389.0 277.3L1389.5 278.7L1390.5 278.7L1390.5 279.3L1389.5 279.3L1389.0 280.7L1385.5 280.8L1379.0 280.6L1377.5 280.8L1376.5 280.7L1372.0 280.8L1370.5 280.8L1369.0 281.0L1368.5 281.0L1366.5 281.6L1365.5 281.7L1365.0 282.0L1364.0 282.7L1363.0 283.2L1362.5 283.2L1361.5 283.8L1361.0 284.3L1360.5 284.7L1359.5 286.1L1359.0 286.5L1358.5 287.4L1358.0 290.1L1357.5 293.5L1357.0 295.4L1356.5 295.9L1356.0 293.2L1355.5 290.2L1355.0 287.0L1354.5 286.0L1354.0 285.8L1353.5 285.4L1353.0 284.9L1352.5 284.7L1351.0 284.2L1349.5 283.5L1349.0 283.5L1348.0 283.4L1347.5 283.1L1347.0 282.9L1346.5 282.6L1343.5 281.4L1343.0 281.4L1342.5 281.2L1340.0 280.9L1337.5 280.9L1336.5 280.7L1336.0 280.8L1335.0 280.8L1333.5 280.9L1333.0 280.8L1331.5 281.0L1330.0 280.8L1324.5 280.8L1321.5 280.6L1319.5 280.7L1319.0 281.0L1318.5 281.1L1318.0 281.4L1317.5 281.5L1317.0 281.1L1316.5 281.0L1316.0 282.2L1315.5 284.3L1315.0 285.3L1314.5 285.4L1314.0 284.5L1313.5 282.1L1313.0 281.2L1312.5 282.0L1312.0 283.8L1311.5 284.4L1311.0 284.6L1310.5 283.2L1310.0 281.7L1309.5 281.6L1309.0 285.1L1308.5 289.0L1308.0 289.0L1307.5 289.2L1307.0 285.5L1306.5 282.2L1306.0 285.0L1305.5 290.4L1305.0 296.0L1304.5 295.7L1304.0 295.9L1303.5 295.6L1303.0 295.8L1302.5 295.7L1302.0 295.9L1301.5 295.3L1301.0 292.3L1300.5 286.9L1300.0 286.2L1299.5 285.7L1299.0 284.7L1298.5 284.1L1298.0 283.3L1297.0 283.1L1295.5 282.4L1294.0 281.8L1292.5 281.4L1290.0 280.7L1287.5 280.4L1281.0 280.5L1280.0 280.4L1273.5 280.3L1269.5 280.4L1263.0 280.5L1261.5 280.3L1259.0 280.4L1253.0 280.3L1251.0 280.4L1244.5 280.8L1238.0 281.1L1236.5 281.6L1235.5 281.4L1234.0 281.6L1233.5 281.7L1232.5 282.0L1230.5 282.0L1230.0 282.1L1229.5 284.6L1229.0 287.5L1228.5 290.1L1228.0 292.9L1227.5 290.5L1226.5 285.0L1226.0 282.3L1224.5 281.9L1223.5 282.1L1223.0 281.9L1222.5 281.9L1221.5 281.5L1220.5 281.6L1218.0 281.3L1216.5 281.3L1216.0 281.3L1214.0 281.2L1213.5 281.3L1213.0 281.2L1212.0 281.0L1210.5 281.2L1209.0 281.2L1208.5 281.3L1207.0 281.2L1204.0 281.3L1202.0 281.1L1200.5 281.2L1199.0 281.3L1198.5 281.3L1195.5 281.5L1194.0 282.0L1193.0 282.1L1191.5 282.3L1191.0 282.2L1189.5 282.9L1189.0 283.0L1188.5 282.9L1187.5 283.1L1187.0 283.5L1186.5 283.7L1186.0 284.1L1185.5 284.1L1185.0 284.4L1184.5 284.3L1184.0 285.2L1183.5 285.8L1183.0 286.8L1182.5 287.4L1182.0 292.8L1181.5 296.1L1181.0 295.8L1180.5 296.4L1180.0 296.1L1179.5 294.0L1179.0 294.0L1178.5 294.4L1178.0 294.4L1177.5 294.0L1177.0 294.5L1176.5 294.2L1176.0 295.0L1175.5 294.3L1175.0 293.8L1174.5 293.6L1174.0 293.2L1173.5 292.6L1173.0 291.6L1172.5 291.0L1172.0 291.2L1171.5 290.6L1171.0 290.2L1170.5 288.6L1170.0 288.2L1169.5 287.0L1169.0 287.2L1168.5 287.2L1168.0 287.4L1167.5 287.8L1166.5 287.8L1166.0 287.1L1165.5 286.1L1165.0 285.2L1164.5 284.5L1164.0 283.4L1163.5 282.8L1163.0 282.3L1162.5 281.9L1162.0 281.6L1160.5 281.2L1160.0 281.0L1158.5 281.0L1152.0 280.9L1150.0 280.6L1147.0 280.8L1144.0 280.7L1142.5 280.6L1139.0 280.7L1135.5 280.7L1132.5 280.7L1132.0 280.7L1130.0 280.6L1128.5 280.7L1124.0 280.7L1123.5 281.9L1123.0 283.6L1122.5 283.5L1122.0 283.8L1121.5 282.6L1121.0 280.9L1120.5 282.1L1120.0 284.2L1119.5 285.8L1119.0 286.0L1118.5 285.8L1118.0 283.3L1117.5 281.3L1117.0 282.4L1116.5 284.7L1116.0 285.2L1115.5 285.6L1115.0 284.0L1114.5 282.0L1114.0 282.5L1113.5 285.5L1113.0 288.3L1112.5 288.5L1112.0 288.3L1111.5 285.1L1111.0 282.2L1110.5 283.1L1110.0 286.0L1109.5 287.3L1109.0 287.3L1108.5 286.3L1108.0 283.4L1107.5 282.8L1107.0 286.1L1106.5 290.0L1106.0 291.0L1105.5 291.0L1105.0 287.9L1104.5 284.0L1104.0 288.7L1103.5 295.6L1103.0 296.9L1102.5 296.2L1102.0 295.9L1101.5 295.8L1101.0 295.8L1100.5 296.4L1100.0 296.6L1099.5 296.5L1098.5 294.4L1098.0 294.4L1097.5 295.0L1097.0 295.5L1096.5 295.4L1096.0 295.3L1095.5 295.9L1095.0 297.1L1094.0 297.1L1093.5 294.6L1093.0 292.1L1092.5 290.9L1092.0 290.2L1091.5 289.2L1090.5 287.8L1090.0 287.3L1089.5 286.4L1089.0 285.7L1088.5 285.2L1087.5 284.2L1087.0 283.8L1086.5 283.3L1085.5 282.8L1084.5 282.4L1083.0 282.1L1082.5 281.9L1081.0 281.4L1080.5 281.2L1079.5 281.3L1078.0 281.1L1076.5 281.0L1075.5 280.9L1074.0 280.8L1073.5 280.8L1072.0 280.9L1071.5 280.9L1071.0 280.8L1069.5 281.0L1068.0 280.9L1062.5 280.9L1062.0 281.0L1057.5 281.2L1055.0 281.3L1053.5 281.5L1053.0 281.8L1052.0 282.0L1051.0 282.1L1049.5 282.6L1048.5 282.7L1047.0 283.2L1046.0 283.3L1045.5 283.6L1044.0 284.3L1043.0 285.0L1042.5 285.7L1042.0 286.2L1041.5 286.8L1041.0 287.0L1040.5 287.7L1040.0 288.8L1039.5 289.7L1039.0 290.8L1038.5 291.2L1038.0 292.2L1037.5 293.0L1037.0 295.5L1036.5 296.1L1036.0 296.4L1035.5 296.1L1035.0 296.6L1034.5 296.1L1034.0 295.8L1033.5 295.3L1033.0 295.0L1032.5 295.7L1032.0 295.8L1031.5 295.9L1031.0 296.2L1030.0 296.0L1029.5 293.9L1029.0 293.0L1028.5 291.3L1028.0 290.4L1027.5 289.0L1027.0 288.7L1026.5 288.0L1026.0 287.8L1025.5 287.3L1025.0 286.9L1024.5 286.3L1024.0 285.7L1023.5 285.4L1023.0 284.8L1022.0 284.3L1021.5 284.1L1021.0 283.9L1019.5 283.5L1018.5 283.5L1018.0 283.7L1017.0 283.0L1016.5 282.6L1015.0 283.0L1014.0 283.0L1013.5 282.9L1012.0 282.6L1011.5 282.7L1010.5 282.8L1010.0 282.6L1009.5 282.6L1009.0 282.6L1008.5 282.7L1008.0 282.6L1007.5 282.7L1006.5 282.5L1005.5 282.4L1005.0 282.6L1004.0 282.7L1003.0 282.5L1002.0 282.4L1000.5 282.8L999.5 282.7L999.0 282.5L998.0 282.5L997.5 282.6L997.0 282.9L996.0 283.0L995.5 282.8L995.0 283.0L994.5 282.9L994.0 283.2L993.5 283.1L993.0 283.2L992.5 283.0L992.0 283.2L991.5 283.1L990.5 283.4L990.0 283.6L989.5 283.8L988.5 283.8L988.0 283.9L987.5 284.1L987.0 284.3L986.5 284.3L986.0 284.5L985.5 284.8L985.0 285.2L984.5 285.9L984.0 286.5L983.5 286.6L983.0 286.8L982.5 286.9L982.0 287.3L981.5 288.0L981.0 288.4L980.5 289.3L980.0 289.7L979.5 290.8L979.0 291.9L978.5 293.0L978.0 294.3L977.5 294.8L977.0 296.1L976.5 296.1L976.0 296.6L975.5 296.3L975.0 296.5L974.5 295.8L974.0 296.2L973.5 295.5L973.0 296.5L972.5 296.3L972.0 297.3L971.5 297.4L971.0 297.4L970.5 297.1L970.0 296.4L969.5 295.7L969.0 293.9L968.5 292.5L968.0 291.2L967.5 289.8L967.0 288.0L966.5 287.3L966.0 286.7L965.0 286.5L964.5 285.7L964.0 285.3L963.5 284.9L963.0 284.8L962.0 284.0L961.0 283.8L960.0 283.2L959.5 283.0L959.0 282.9L957.5 282.2L955.5 281.9L954.0 281.5L952.0 281.4L951.5 281.2L951.0 279.0L948.0 279.0L941.5 279.0L935.0 279.0L928.5 279.0L922.0 279.0L915.5 279.0L915.0 281.3L914.5 282.8L914.0 283.6L913.5 284.1L913.0 283.9L912.5 283.5L912.0 282.3L911.5 279.0L906.0 279.0L905.5 282.0L905.0 283.6L904.5 284.3L904.0 284.8L903.5 283.9L903.0 282.7L902.5 279.0L899.0 279.0L892.5 279.0L886.0 279.0L879.5 279.0L873.0 279.0Z" fill="#bfbf00"/>
<path d="M964.1 272.0L967.1 269.4L969.1 265.5L969.9 261.7L970.2 250.0L970.4 227.0L970.6 170.0L970.8 124.0L971.0 118.5L971.4 117.5L972.4 117.5L972.8 118.5L973.2 124.0L973.6 170.0L974.3 227.0L975.1 250.0L975.5 261.7L976.7 265.5L979.7 269.4L985.7 272.0Z" fill="#bfbf00"/>
<path d="M964.1 286.0L967.1 288.6L969.1 292.5L969.9 296.3L970.2 308.0L970.4 331.0L970.6 388.0L970.8 434.0L971.0 438.0L971.4 439.0L972.4 439.0L972.8 438.0L973.2 434.0L973.6 388.0L974.3 331.0L975.1 308.0L975.5 296.3L976.7 292.5L979.7 288.6L985.7 286.0Z" fill="#bfbf00"/>
<path d="M1023.5 271.0L1027.7 265.5L1029.3 256.0L1030.6 237.0L1031.4 218.0L1031.8 199.0L1031.9 195.0L1032.3 194.0L1033.3 194.0L1033.7 195.0L1033.8 199.0L1034.2 218.0L1035.0 237.0L1036.3 256.0L1037.9 265.5L1042.1 271.0Z" fill="#bfbf00"/>
<path d="M1023.5 287.0L1027.7 292.5L1029.3 302.0L1030.6 321.0L1031.4 340.0L1031.8 359.0L1031.9 363.0L1032.3 364.0L1033.3 364.0L1033.7 363.0L1033.8 359.0L1034.2 340.0L1035.0 321.0L1036.3 302.0L1037.9 292.5L1042.1 287.0Z" fill="#bfbf00"/>
<path d="M1090.1 271.3L1093.9 265.5L1095.3 256.0L1096.0 246.4L1097.1 227.0L1097.9 209.0L1098.0 205.4L1098.4 204.4L1099.4 204.4L1099.8 205.4L1099.9 209.0L1100.7 227.0L1101.8 246.4L1102.5 256.0L1103.9 265.5L1107.7 271.3Z" fill="#bfbf00"/>
<path d="M1090.1 286.7L1093.9 292.5L1095.3 302.0L1096.0 311.6L1097.1 331.0L1097.9 349.0L1098.0 352.0L1098.4 353.0L1099.4 353.0L1099.8 352.0L1099.9 349.0L1100.7 331.0L1101.8 311.6L1102.5 302.0L1103.9 292.5L1107.7 286.7Z" fill="#bfbf00"/>
<path d="M1177.4 273.0L1178.1 269.0L1178.4 259.0L1178.6 244.0L1179.1 238.0L1179.6 236.6L1180.0 235.6L1181.0 235.6L1181.4 236.6L1181.9 238.0L1182.4 244.0L1182.6 259.0L1182.9 269.0L1183.6 273.0Z" fill="#bfbf00"/>
<path d="M1177.4 285.0L1178.1 289.0L1178.4 299.0L1178.6 314.0L1179.1 320.0L1179.6 321.0L1180.0 322.0L1181.0 322.0L1181.4 321.0L1181.9 320.0L1182.4 314.0L1182.6 299.0L1182.9 289.0L1183.6 285.0Z" fill="#bfbf00"/>
<path d="M1226.0 267.0L1226.1 249.0L1226.4 239.0L1226.6 237.0L1227.0 236.0L1228.0 236.0L1228.4 237.0L1228.6 239.0L1228.9 249.0L1229.0 267.0Z" fill="#bfbf00"/>
<path d="M1226.0 291.0L1226.1 309.0L1226.4 319.0L1226.6 320.0L1227.0 321.0L1228.0 321.0L1228.4 320.0L1228.6 319.0L1228.9 309.0L1229.0 291.0Z" fill="#bfbf00"/>
<path d="M1299.3 275.0L1299.8 268.0L1299.9 254.0L1300.2 245.0L1300.7 239.0L1301.3 234.0L1301.8 230.5L1301.9 230.5L1302.3 229.5L1303.3 229.5L1303.7 230.5L1303.8 230.5L1304.3 234.0L1304.9 239.0L1305.4 245.0L1305.7 254.0L1305.8 268.0L1306.3 275.0Z" fill="#bfbf00"/>
<path d="M1299.3 283.0L1299.8 290.0L1299.9 304.0L1300.2 313.0L1300.7 319.0L1301.3 324.0L1301.8 327.5L1301.9 328.0L1302.3 329.0L1303.3 329.0L1303.7 328.0L1303.8 327.5L1304.3 324.0L1304.9 319.0L1305.4 313.0L1305.7 304.0L1305.8 290.0L1306.3 283.0Z" fill="#bfbf00"/>
<path d="M1353.5 274.0L1354.4 271.0L1354.7 264.0L1355.2 255.0L1355.8 250.5L1355.9 249.5L1356.3 248.5L1357.3 248.5L1357.7 249.5L1357.8 250.5L1358.4 255.0L1358.9 264.0L1359.2 271.0L1360.1 274.0Z" fill="#bfbf00"/>
<path d="M1353.5 284.0L1354.4 287.0L1354.7 294.0L1355.2 303.0L1355.8 307.5L1355.9 308.6L1356.3 309.6L1357.3 309.6L1357.7 308.6L1357.8 307.5L1358.4 303.0L1358.9 294.0L1359.2 287.0L1360.1 284.0Z" fill="#bfbf00"/>
<path d="M873.0 279.0L874.5 279.0L875.0 277.6L881.5 277.6L888.0 277.6L894.5 277.6L901.0 277.6L903.5 277.6L904.0 276.9L904.5 277.0L905.0 277.6L911.5 277.6L912.5 277.7L913.0 277.0L913.5 276.8L914.0 277.6L920.5 277.6L927.0 277.6L933.5 277.6L940.0 277.6L946.5 277.6L953.0 277.4L959.5 276.8L961.0 276.6L962.5 276.5L964.0 276.0L965.0 275.9L966.0 275.3L966.5 275.0L967.0 274.9L967.5 274.7L968.0 274.3L968.5 273.7L969.0 273.3L970.0 273.4L970.5 273.4L971.5 273.4L972.0 273.8L973.0 274.4L974.0 274.8L974.5 275.2L975.5 275.6L977.5 276.0L978.5 276.1L979.5 276.3L981.5 276.3L983.0 276.4L987.0 276.7L988.0 276.6L991.0 276.9L994.0 277.1L995.0 277.0L997.5 277.2L1004.0 277.4L1006.0 277.3L1012.5 277.4L1015.5 277.3L1017.0 277.1L1018.5 277.0L1021.5 276.8L1023.0 276.7L1025.5 276.0L1026.0 276.1L1028.0 275.3L1028.5 275.3L1029.5 275.3L1030.0 274.9L1030.5 274.6L1031.0 274.1L1031.5 273.9L1032.0 273.5L1032.5 273.5L1033.0 273.1L1033.5 273.3L1034.0 273.4L1034.5 273.6L1035.0 273.5L1035.5 273.4L1036.0 273.3L1037.0 273.6L1037.5 274.1L1038.5 274.9L1041.0 275.9L1042.0 275.9L1042.5 275.9L1043.0 276.1L1045.0 276.6L1047.0 276.6L1049.5 276.9L1050.0 276.8L1053.0 277.2L1059.5 277.6L1066.0 277.6L1072.5 277.6L1079.0 277.6L1085.5 277.6L1090.0 277.5L1093.0 277.0L1095.0 276.3L1095.5 276.3L1097.0 274.7L1097.5 274.0L1098.0 273.5L1098.5 273.4L1099.0 273.5L1100.0 273.5L1100.5 274.0L1101.0 274.7L1101.5 275.1L1102.5 276.3L1105.0 276.9L1111.5 277.6L1118.0 277.6L1121.5 277.7L1128.0 277.6L1134.5 277.7L1141.0 277.6L1147.5 277.6L1154.0 277.5L1160.5 277.6L1167.0 277.0L1169.0 276.9L1170.5 276.7L1172.5 276.5L1174.5 275.9L1175.0 275.9L1175.5 275.6L1176.5 274.8L1177.0 274.5L1177.5 274.0L1178.5 273.6L1179.5 273.3L1180.0 273.1L1180.5 272.9L1181.0 272.9L1181.5 273.4L1182.0 273.8L1183.0 274.4L1183.5 274.8L1184.5 275.7L1185.0 275.9L1186.5 276.0L1188.5 276.6L1190.0 276.5L1196.5 276.8L1201.0 277.1L1202.5 277.1L1204.0 277.1L1206.0 277.1L1212.0 277.1L1213.0 277.2L1216.0 277.0L1218.5 276.8L1220.0 276.8L1222.0 276.5L1223.5 276.2L1227.5 276.2L1228.5 276.2L1229.0 276.3L1229.5 276.2L1230.0 276.4L1233.0 276.2L1234.0 276.6L1236.5 276.8L1237.5 276.9L1240.5 277.3L1247.0 277.8L1253.5 277.9L1260.0 277.9L1262.0 277.9L1262.5 277.6L1263.5 277.8L1270.0 278.0L1276.5 277.9L1283.0 277.9L1289.5 277.9L1290.0 277.6L1292.0 277.6L1297.0 276.6L1299.5 275.8L1301.0 274.8L1301.5 274.2L1302.0 273.6L1302.5 273.1L1303.0 273.2L1303.5 273.3L1304.0 273.7L1305.0 274.9L1305.5 275.4L1306.5 276.0L1307.0 276.0L1310.0 276.6L1316.5 277.4L1323.0 277.6L1329.5 277.6L1336.0 277.6L1340.0 277.6L1345.0 276.7L1346.5 276.7L1348.0 276.2L1349.5 276.0L1351.0 275.7L1352.0 275.5L1352.5 275.5L1353.5 275.3L1354.0 275.0L1356.0 275.0L1356.5 275.0L1357.0 275.2L1358.0 275.5L1358.5 275.5L1361.0 276.1L1363.5 276.4L1365.0 276.8L1366.5 276.9L1373.0 277.6L1379.5 277.6L1386.0 277.6L1389.0 277.7L1389.5 279.0L1390.5 279.0L1390.5 279.0L1389.5 279.0L1389.0 280.4L1386.0 280.4L1379.5 280.4L1373.0 280.4L1366.5 281.2L1365.0 281.3L1363.5 281.5L1361.0 282.1L1358.5 282.2L1358.0 282.4L1357.0 282.8L1356.5 282.9L1356.0 283.1L1354.0 282.9L1353.5 282.7L1352.5 282.5L1352.0 282.4L1351.0 282.1L1349.5 282.1L1348.0 281.7L1346.5 281.4L1345.0 281.3L1340.0 280.4L1336.0 280.4L1329.5 280.4L1323.0 280.5L1316.5 280.7L1310.0 281.3L1307.0 281.9L1306.5 282.1L1305.5 283.0L1305.0 283.4L1304.0 284.7L1303.5 284.9L1303.0 284.7L1302.5 284.9L1302.0 284.4L1301.5 283.9L1301.0 283.3L1299.5 282.0L1297.0 281.5L1292.0 280.4L1290.0 280.4L1289.5 280.1L1283.0 280.1L1276.5 280.1L1270.0 280.1L1263.5 280.2L1262.5 280.5L1262.0 280.1L1260.0 280.1L1253.5 280.1L1247.0 280.2L1240.5 280.7L1237.5 281.1L1236.5 281.2L1234.0 281.5L1233.0 281.8L1230.0 281.7L1229.5 281.7L1229.0 281.6L1228.5 281.7L1227.5 281.8L1223.5 281.6L1222.0 281.4L1220.0 281.1L1218.5 281.2L1216.0 280.9L1213.0 281.0L1212.0 280.9L1206.0 280.9L1204.0 281.0L1202.5 280.8L1201.0 281.0L1196.5 281.2L1190.0 281.5L1188.5 281.5L1186.5 281.9L1185.0 282.3L1184.5 282.4L1183.5 283.0L1183.0 283.4L1182.0 284.2L1181.5 284.3L1181.0 284.4L1180.5 284.7L1180.0 284.7L1179.5 285.0L1178.5 284.8L1177.5 284.2L1177.0 283.6L1176.5 283.1L1175.5 282.3L1175.0 282.2L1174.5 282.0L1172.5 281.5L1170.5 281.4L1169.0 281.2L1167.0 280.9L1160.5 280.4L1154.0 280.4L1147.5 280.5L1141.0 280.5L1134.5 280.4L1128.0 280.4L1121.5 280.3L1118.0 280.4L1111.5 280.4L1105.0 281.0L1102.5 281.9L1101.5 282.8L1101.0 283.1L1100.5 283.8L1100.0 284.6L1099.0 284.8L1098.5 284.8L1098.0 284.8L1097.5 284.0L1097.0 283.4L1095.5 281.8L1095.0 281.7L1093.0 281.2L1090.0 280.5L1085.5 280.4L1079.0 280.4L1072.5 280.4L1066.0 280.3L1059.5 280.4L1053.0 280.8L1050.0 281.1L1049.5 281.1L1047.0 281.2L1045.0 281.6L1043.0 281.8L1042.5 281.9L1042.0 282.1L1041.0 282.2L1038.5 282.9L1037.5 283.5L1037.0 284.0L1036.0 285.0L1035.5 285.1L1035.0 284.8L1034.5 284.8L1034.0 284.8L1033.5 284.9L1033.0 284.7L1032.5 284.5L1032.0 284.3L1031.5 284.2L1031.0 283.9L1030.5 283.6L1030.0 283.4L1029.5 282.9L1028.5 282.6L1028.0 282.5L1026.0 281.9L1025.5 281.8L1023.0 281.5L1021.5 281.3L1018.5 281.2L1017.0 280.8L1015.5 280.7L1012.5 280.7L1006.0 280.6L1004.0 280.6L997.5 280.9L995.0 280.8L994.0 280.9L991.0 281.2L988.0 281.3L987.0 281.4L983.0 281.5L981.5 281.8L979.5 281.7L978.5 281.8L977.5 282.2L975.5 282.2L974.5 282.5L974.0 282.7L973.0 283.4L972.0 284.6L971.5 284.9L970.5 284.5L970.0 284.5L969.0 285.0L968.5 284.7L968.0 284.0L967.5 283.3L967.0 283.0L966.5 282.9L966.0 282.7L965.0 282.0L964.0 281.7L962.5 281.5L961.0 281.2L959.5 281.3L953.0 280.6L946.5 280.4L940.0 280.4L933.5 280.4L927.0 280.4L920.5 280.4L914.0 280.4L913.5 281.1L913.0 281.0L912.5 280.4L911.5 280.4L905.0 280.5L904.5 281.1L904.0 281.2L903.5 280.4L901.0 280.4L894.5 280.4L888.0 280.4L881.5 280.4L875.0 280.4L874.5 279.0L873.0 279.0Z" fill="#993300"/>
<path d="M964.7 275.0L966.2 273.0L967.2 270.0L967.9 265.0L968.4 259.0L969.0 253.0L969.9 248.0L970.7 248.0L971.6 253.0L972.2 259.0L972.7 265.0L973.4 270.0L974.4 273.0L975.9 275.0Z" fill="#993300"/>
<path d="M964.7 283.0L966.2 285.0L967.2 288.0L967.9 293.0L968.4 299.0L969.0 305.0L969.9 310.0L970.7 310.0L971.6 305.0L972.2 299.0L972.7 293.0L973.4 288.0L974.4 285.0L975.9 283.0Z" fill="#993300"/>
<path d="M1028.6 275.0L1031.0 273.0L1032.5 269.0L1033.2 262.0L1033.9 253.0L1034.5 253.0L1035.2 262.0L1035.9 269.0L1037.4 273.0L1039.8 275.0Z" fill="#993300"/>
<path d="M1028.6 283.0L1031.0 285.0L1032.5 289.0L1033.2 296.0L1033.9 305.0L1034.5 305.0L1035.2 296.0L1035.9 289.0L1037.4 285.0L1039.8 283.0Z" fill="#993300"/>
<path d="M1094.5 276.5L1096.3 274.0L1097.7 271.0L1098.7 268.8L1099.3 268.8L1100.3 271.0L1101.7 274.0L1103.5 276.5Z" fill="#993300"/>
<path d="M1094.5 281.5L1096.3 284.0L1097.7 287.0L1098.7 289.2L1099.3 289.2L1100.3 287.0L1101.7 284.0L1103.5 281.5Z" fill="#993300"/>
<path d="M1174.4 275.0L1176.0 273.0L1177.7 269.0L1178.7 264.5L1179.6 261.0L1180.4 261.0L1181.3 264.5L1182.3 269.0L1184.0 273.0L1185.6 275.0Z" fill="#993300"/>
<path d="M1174.4 283.0L1176.0 285.0L1177.7 289.0L1178.7 293.5L1179.6 297.0L1180.4 297.0L1181.3 293.5L1182.3 289.0L1184.0 285.0L1185.6 283.0Z" fill="#993300"/>
<path d="M1223.3 276.5L1224.0 273.0L1225.0 270.0L1225.9 267.5L1227.3 265.0L1228.7 265.0L1230.1 267.5L1231.0 270.0L1232.0 273.0L1232.7 276.5Z" fill="#993300"/>
<path d="M1223.3 281.5L1224.0 285.0L1225.0 288.0L1225.9 290.5L1227.3 293.0L1228.7 293.0L1230.1 290.5L1231.0 288.0L1232.0 285.0L1232.7 281.5Z" fill="#993300"/>
<path d="M1298.9 276.5L1300.2 274.5L1301.2 272.0L1301.9 269.5L1302.6 267.4L1303.4 267.4L1304.1 269.5L1304.8 272.0L1305.8 274.5L1307.1 276.5Z" fill="#993300"/>
<path d="M1298.9 281.5L1300.2 283.5L1301.2 286.0L1301.9 288.5L1302.6 290.6L1303.4 290.6L1304.1 288.5L1304.8 286.0L1305.8 283.5L1307.1 281.5Z" fill="#993300"/>
</g>
<g id="legend">
<path d="M1248 57.1H1293.6" stroke="#000000" stroke-width="2" fill="none"/>
<path d="M1248 89.6H1293.6" stroke="#bfbf00" stroke-width="2" fill="none"/>
<path d="M1248 122.1H1293.6" stroke="#993300" stroke-width="2" fill="none"/>
</g>
<g id="arrow"><path d="M690.6 313.2H764" stroke="#000" stroke-width="2.6" fill="none"/><path d="M777.6 313.2L755.4 305.2L762 313.2L755.4 321.4Z" fill="#000"/></g>
<g id="labels">
<text transform="translate(74.8 575.3) scale(0.915 1)" text-anchor="middle" font-size="31.4">0</text>
<text transform="translate(151.9 575.3) scale(0.915 1)" text-anchor="middle" font-size="31.4">20</text>
<text transform="translate(229.1 575.3) scale(0.915 1)" text-anchor="middle" font-size="31.4">40</text>
<text transform="translate(306.2 575.3) scale(0.915 1)" text-anchor="middle" font-size="31.4">60</text>
<text transform="translate(383.3 575.3) scale(0.915 1)" text-anchor="middle" font-size="31.4">80</text>
<text transform="translate(460.5 575.3) scale(0.915 1)" text-anchor="middle" font-size="31.4">100</text>
<text transform="translate(537.6 575.3) scale(0.915 1)" text-anchor="middle" font-size="31.4">120</text>
<text transform="translate(614.7 575.3) scale(0.915 1)" text-anchor="middle" font-size="31.4">140</text>
<text transform="translate(63.6 23.1) scale(0.915 1)" text-anchor="end" font-size="31.4">6</text>
<text transform="translate(63.6 98.0) scale(0.915 1)" text-anchor="end" font-size="31.4">4</text>
<text transform="translate(63.6 173.0) scale(0.915 1)" text-anchor="end" font-size="31.4">2</text>
<text transform="translate(63.6 247.9) scale(0.915 1)" text-anchor="end" font-size="31.4">0</text>
<text transform="translate(63.6 322.8) scale(0.915 1)" text-anchor="end" font-size="31.4">-2</text>
<text transform="translate(63.6 397.7) scale(0.915 1)" text-anchor="end" font-size="31.4">-4</text>
<text transform="translate(63.6 472.7) scale(0.915 1)" text-anchor="end" font-size="31.4">-6</text>
<text transform="translate(63.6 547.6) scale(0.915 1)" text-anchor="end" font-size="31.4">-8</text>
<text transform="translate(874.8 579.3) scale(0.915 1)" text-anchor="middle" font-size="31.4">0</text>
<text transform="translate(951.0 579.3) scale(0.915 1)" text-anchor="middle" font-size="31.4">20</text>
<text transform="translate(1027.2 579.3) scale(0.915 1)" text-anchor="middle" font-size="31.4">40</text>
<text transform="translate(1103.4 579.3) scale(0.915 1)" text-anchor="middle" font-size="31.4">60</text>
<text transform="translate(1179.6 579.3) scale(0.915 1)" text-anchor="middle" font-size="31.4">80</text>
<text transform="translate(1255.8 579.3) scale(0.915 1)" text-anchor="middle" font-size="31.4">100</text>
<text transform="translate(1332.0 579.3) scale(0.915 1)" text-anchor="middle" font-size="31.4">120</text>
<text transform="translate(1408.2 579.3) scale(0.915 1)" text-anchor="middle" font-size="31.4">140</text>
<text transform="translate(862.4 28.9) scale(0.915 1)" text-anchor="end" font-size="31.4">1</text>
<text transform="translate(862.4 159.5) scale(0.915 1)" text-anchor="end" font-size="31.4">0.5</text>
<text transform="translate(862.4 290.1) scale(0.915 1)" text-anchor="end" font-size="31.4">0</text>
<text transform="translate(862.4 420.8) scale(0.915 1)" text-anchor="end" font-size="31.4">-0.5</text>
<text transform="translate(862.4 551.4) scale(0.915 1)" text-anchor="end" font-size="31.4">-1</text>
<text x="364.3" y="613.6" text-anchor="middle" font-size="34.2">time (s)</text>
<text x="1160.8" y="617.6" text-anchor="middle" font-size="34.2">time (s)</text>
<text transform="translate(26.6 274.4) rotate(-90)" text-anchor="middle" style="stroke-width:0.06px" font-size="34.2">acceleration (g)</text>
<text transform="translate(827.4 279) rotate(-90)" text-anchor="middle" style="stroke-width:0.06px" font-size="34.2">acceleration (g)</text>
<text x="680.3" y="296" font-size="30.35">filtering</text>
<text x="1298" y="66.7" font-size="27.8">z-direction</text>
<text x="1298" y="99.2" font-size="27.8">x-direction</text>
<text x="1298" y="131.7" font-size="27.8">y-direction</text>
</g>
</svg>
</body>
</html>
